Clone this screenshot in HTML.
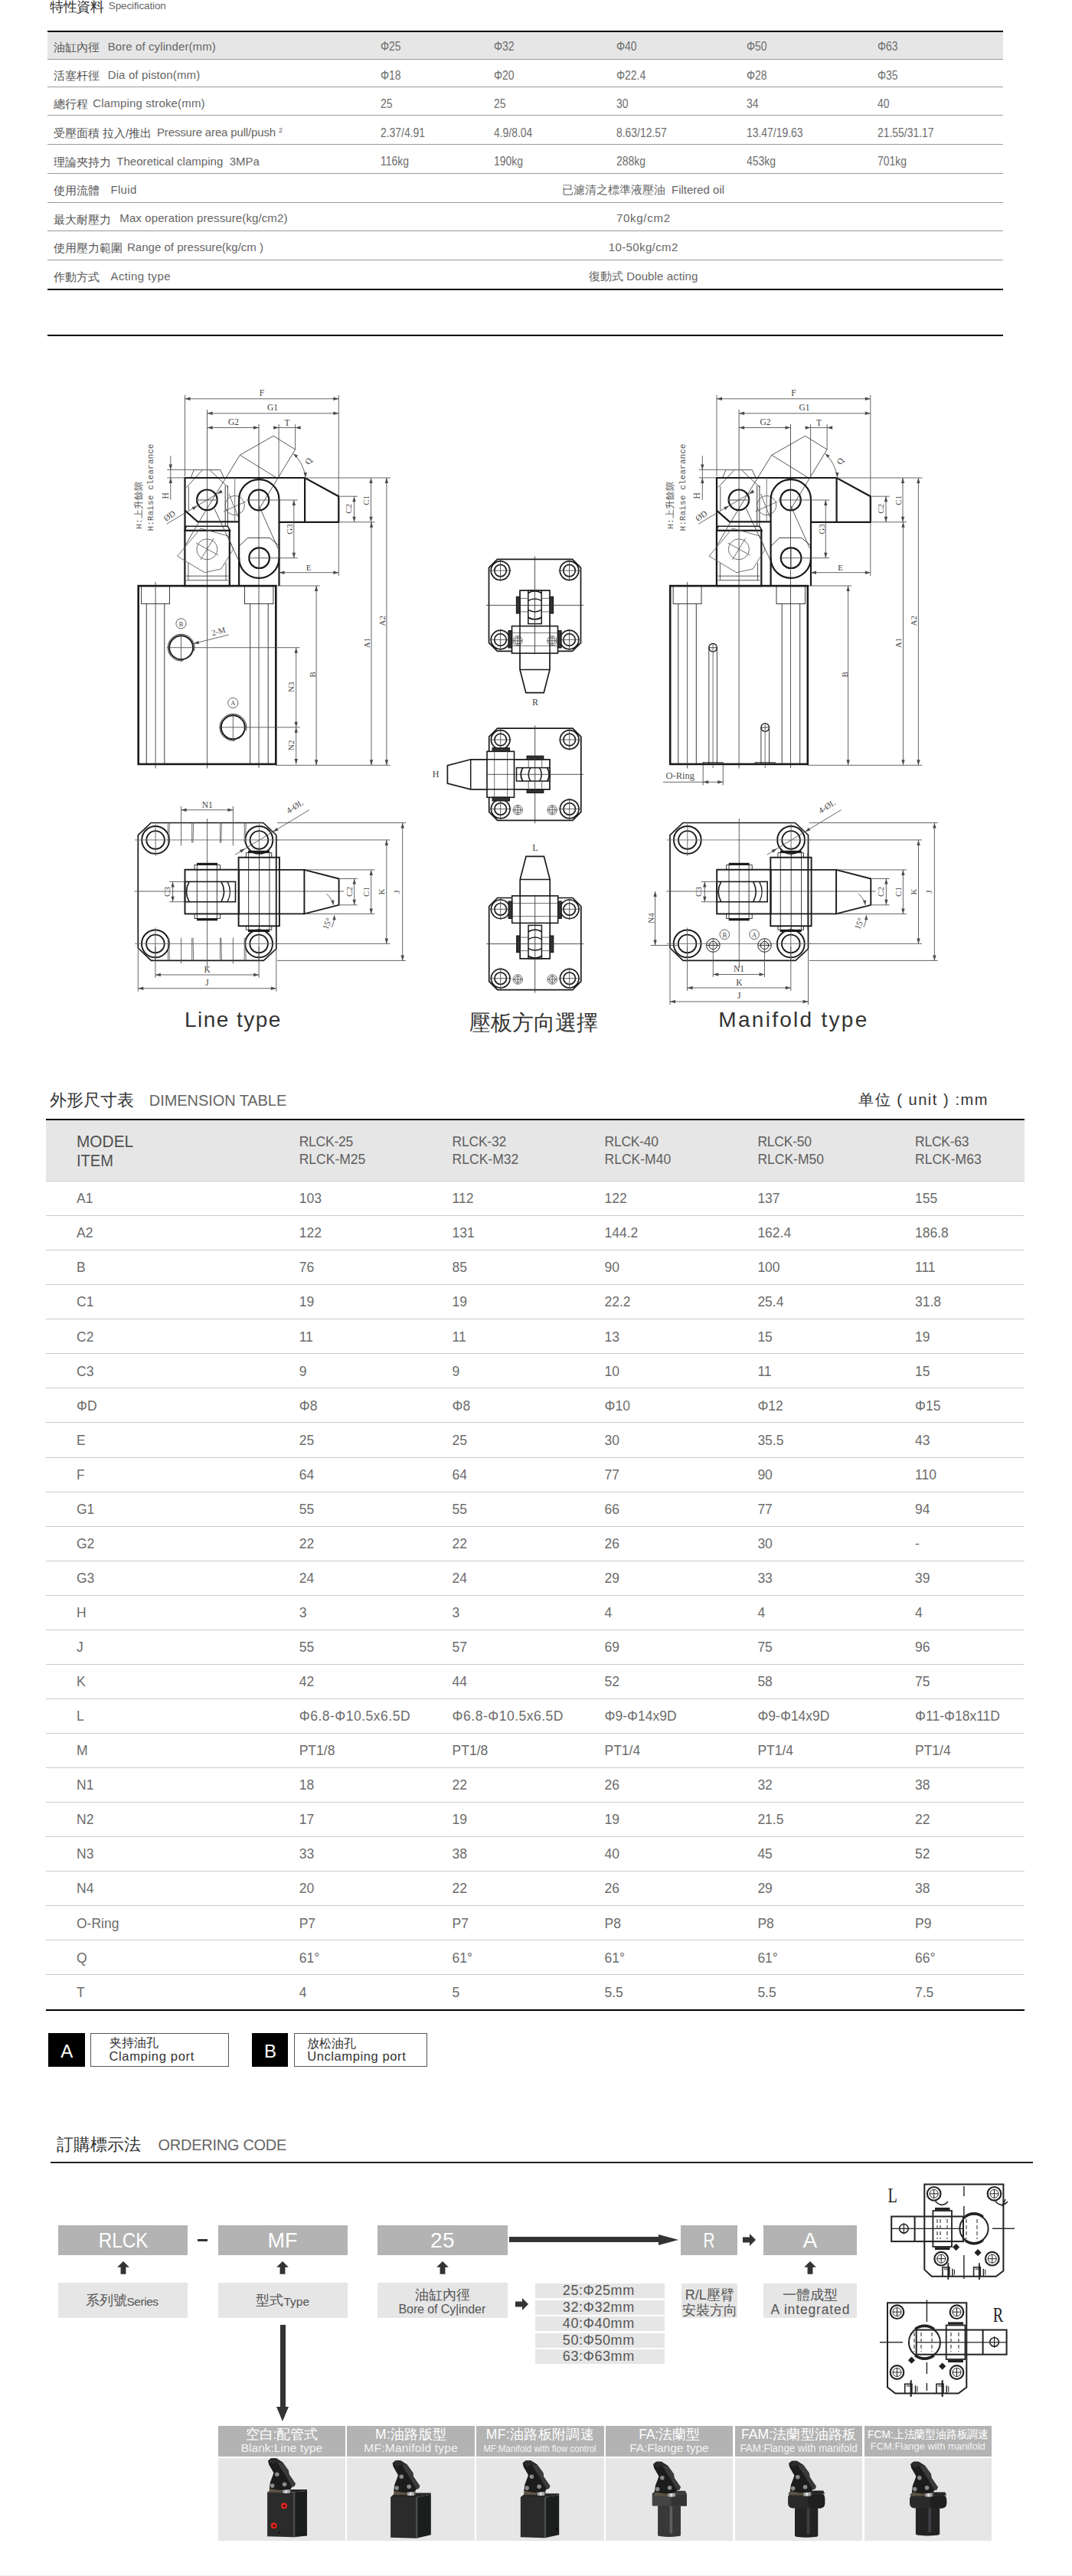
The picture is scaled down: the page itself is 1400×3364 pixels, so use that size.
<!DOCTYPE html>
<html><head><meta charset="utf-8"><title>RLCK</title><style>
*{margin:0;padding:0;box-sizing:border-box}
html,body{width:1400px;height:3364px;overflow:hidden;background:#fff}
body{position:relative;font-family:"Liberation Sans",sans-serif}
.t{position:absolute;white-space:nowrap}
.r{position:absolute;display:block}
sup{font-size:60%;vertical-align:top;position:relative;top:-3px}
svg{overflow:visible}
</style></head>
<body>
<div class="t " style="left:64.7px;top:-2.0px;font-size:17.50px;line-height:23px;color:#333;letter-spacing:-0.16px;">特性資料</div>
<div class="t " style="left:141.8px;top:-1.5px;font-size:13.50px;line-height:18px;color:#666;letter-spacing:-0.13px;">Specification</div>
<div class="r" style="left:62.0px;top:40.0px;width:1248.0px;height:2.0px;background:#000;"></div>
<div class="r" style="left:62.0px;top:42.0px;width:1248.0px;height:35.0px;background:#e6e6e6;"></div>
<div class="r" style="left:62.0px;top:77.0px;width:1248.0px;height:1.0px;background:#999;"></div>
<div class="r" style="left:62.0px;top:113.0px;width:1248.0px;height:1.0px;background:#999;"></div>
<div class="r" style="left:62.0px;top:149.5px;width:1248.0px;height:1.0px;background:#999;"></div>
<div class="r" style="left:62.0px;top:187.5px;width:1248.0px;height:1.0px;background:#999;"></div>
<div class="r" style="left:62.0px;top:226.0px;width:1248.0px;height:1.0px;background:#999;"></div>
<div class="r" style="left:62.0px;top:264.0px;width:1248.0px;height:1.0px;background:#999;"></div>
<div class="r" style="left:62.0px;top:301.0px;width:1248.0px;height:1.0px;background:#999;"></div>
<div class="r" style="left:62.0px;top:339.0px;width:1248.0px;height:1.0px;background:#999;"></div>
<div class="r" style="left:62.0px;top:377.0px;width:1248.0px;height:2.0px;background:#000;"></div>
<div class="t " style="left:70.0px;top:52.6px;font-size:14.80px;line-height:19px;color:#555;">油缸內徑</div>
<div class="t " style="left:140.7px;top:50.5px;font-size:15.00px;line-height:20px;color:#666;letter-spacing:0.10px;">Bore of cylinder(mm)</div>
<div class="t " style="left:496.5px;top:50.0px;font-size:16.00px;line-height:21px;color:#6e6e6e;transform:scaleX(0.87);transform-origin:left center;">Φ25</div>
<div class="t " style="left:644.6px;top:50.0px;font-size:16.00px;line-height:21px;color:#6e6e6e;transform:scaleX(0.87);transform-origin:left center;">Φ32</div>
<div class="t " style="left:804.5px;top:50.0px;font-size:16.00px;line-height:21px;color:#6e6e6e;transform:scaleX(0.87);transform-origin:left center;">Φ40</div>
<div class="t " style="left:975.0px;top:50.0px;font-size:16.00px;line-height:21px;color:#6e6e6e;transform:scaleX(0.87);transform-origin:left center;">Φ50</div>
<div class="t " style="left:1146.0px;top:50.0px;font-size:16.00px;line-height:21px;color:#6e6e6e;transform:scaleX(0.87);transform-origin:left center;">Φ63</div>
<div class="t " style="left:70.0px;top:90.1px;font-size:14.80px;line-height:19px;color:#555;">活塞杆徑</div>
<div class="t " style="left:140.7px;top:88.0px;font-size:15.00px;line-height:20px;color:#666;letter-spacing:0.13px;">Dia of piston(mm)</div>
<div class="t " style="left:496.5px;top:87.5px;font-size:16.00px;line-height:21px;color:#6e6e6e;transform:scaleX(0.87);transform-origin:left center;">Φ18</div>
<div class="t " style="left:644.6px;top:87.5px;font-size:16.00px;line-height:21px;color:#6e6e6e;transform:scaleX(0.87);transform-origin:left center;">Φ20</div>
<div class="t " style="left:804.5px;top:87.5px;font-size:16.00px;line-height:21px;color:#6e6e6e;transform:scaleX(0.87);transform-origin:left center;">Φ22.4</div>
<div class="t " style="left:975.0px;top:87.5px;font-size:16.00px;line-height:21px;color:#6e6e6e;transform:scaleX(0.87);transform-origin:left center;">Φ28</div>
<div class="t " style="left:1146.0px;top:87.5px;font-size:16.00px;line-height:21px;color:#6e6e6e;transform:scaleX(0.87);transform-origin:left center;">Φ35</div>
<div class="t " style="left:70.0px;top:127.4px;font-size:14.80px;line-height:19px;color:#555;">總行程</div>
<div class="t " style="left:121.3px;top:125.3px;font-size:15.00px;line-height:20px;color:#666;letter-spacing:0.16px;">Clamping stroke(mm)</div>
<div class="t " style="left:496.5px;top:124.8px;font-size:16.00px;line-height:21px;color:#6e6e6e;transform:scaleX(0.87);transform-origin:left center;">25</div>
<div class="t " style="left:644.6px;top:124.8px;font-size:16.00px;line-height:21px;color:#6e6e6e;transform:scaleX(0.87);transform-origin:left center;">25</div>
<div class="t " style="left:804.5px;top:124.8px;font-size:16.00px;line-height:21px;color:#6e6e6e;transform:scaleX(0.87);transform-origin:left center;">30</div>
<div class="t " style="left:975.0px;top:124.8px;font-size:16.00px;line-height:21px;color:#6e6e6e;transform:scaleX(0.87);transform-origin:left center;">34</div>
<div class="t " style="left:1146.0px;top:124.8px;font-size:16.00px;line-height:21px;color:#6e6e6e;transform:scaleX(0.87);transform-origin:left center;">40</div>
<div class="t " style="left:70.0px;top:165.4px;font-size:14.80px;line-height:19px;color:#555;">受壓面積 拉入/推出</div>
<div class="t " style="left:205.0px;top:163.3px;font-size:15.00px;line-height:20px;color:#666;letter-spacing:-0.15px;">Pressure area pull/push <sup>2</sup></div>
<div class="t " style="left:496.5px;top:162.8px;font-size:16.00px;line-height:21px;color:#6e6e6e;transform:scaleX(0.87);transform-origin:left center;">2.37/4.91</div>
<div class="t " style="left:644.6px;top:162.8px;font-size:16.00px;line-height:21px;color:#6e6e6e;transform:scaleX(0.87);transform-origin:left center;">4.9/8.04</div>
<div class="t " style="left:804.5px;top:162.8px;font-size:16.00px;line-height:21px;color:#6e6e6e;transform:scaleX(0.87);transform-origin:left center;">8.63/12.57</div>
<div class="t " style="left:975.0px;top:162.8px;font-size:16.00px;line-height:21px;color:#6e6e6e;transform:scaleX(0.87);transform-origin:left center;">13.47/19.63</div>
<div class="t " style="left:1146.0px;top:162.8px;font-size:16.00px;line-height:21px;color:#6e6e6e;transform:scaleX(0.87);transform-origin:left center;">21.55/31.17</div>
<div class="t " style="left:70.0px;top:202.8px;font-size:14.80px;line-height:19px;color:#555;">理論夾持力</div>
<div class="t " style="left:152.3px;top:200.7px;font-size:15.00px;line-height:20px;color:#666;letter-spacing:0.03px;">Theoretical clamping&nbsp; 3MPa</div>
<div class="t " style="left:496.5px;top:200.2px;font-size:16.00px;line-height:21px;color:#6e6e6e;transform:scaleX(0.87);transform-origin:left center;">116kg</div>
<div class="t " style="left:644.6px;top:200.2px;font-size:16.00px;line-height:21px;color:#6e6e6e;transform:scaleX(0.87);transform-origin:left center;">190kg</div>
<div class="t " style="left:804.5px;top:200.2px;font-size:16.00px;line-height:21px;color:#6e6e6e;transform:scaleX(0.87);transform-origin:left center;">288kg</div>
<div class="t " style="left:975.0px;top:200.2px;font-size:16.00px;line-height:21px;color:#6e6e6e;transform:scaleX(0.87);transform-origin:left center;">453kg</div>
<div class="t " style="left:1146.0px;top:200.2px;font-size:16.00px;line-height:21px;color:#6e6e6e;transform:scaleX(0.87);transform-origin:left center;">701kg</div>
<div class="t " style="left:70.0px;top:240.1px;font-size:14.80px;line-height:19px;color:#555;">使用流體</div>
<div class="t " style="left:144.5px;top:238.0px;font-size:15.00px;line-height:20px;color:#666;letter-spacing:0.31px;">Fluid</div>
<div class="t " style="left:540.0px;width:600px;text-align:center;top:238.0px;font-size:15.00px;line-height:20px;color:#666;letter-spacing:-0.02px;text-indent:-0.02px;">已濾清之標準液壓油&nbsp; Filtered oil</div>
<div class="t " style="left:70.0px;top:277.5px;font-size:14.80px;line-height:19px;color:#555;">最大耐壓力</div>
<div class="t " style="left:156.3px;top:275.4px;font-size:15.00px;line-height:20px;color:#666;letter-spacing:0.11px;">Max operation pressure(kg/cm2)</div>
<div class="t " style="left:540.0px;width:600px;text-align:center;top:275.4px;font-size:15.00px;line-height:20px;color:#666;letter-spacing:0.71px;text-indent:0.71px;">70kg/cm2</div>
<div class="t " style="left:70.0px;top:315.4px;font-size:14.80px;line-height:19px;color:#555;">使用壓力範圍</div>
<div class="t " style="left:166.0px;top:313.3px;font-size:15.00px;line-height:20px;color:#666;letter-spacing:0.02px;">Range of pressure(kg/cm )</div>
<div class="t " style="left:540.0px;width:600px;text-align:center;top:313.3px;font-size:15.00px;line-height:20px;color:#666;letter-spacing:0.38px;text-indent:0.38px;">10-50kg/cm2</div>
<div class="t " style="left:70.0px;top:352.6px;font-size:14.80px;line-height:19px;color:#555;">作動方式</div>
<div class="t " style="left:144.5px;top:350.5px;font-size:15.00px;line-height:20px;color:#666;letter-spacing:0.38px;">Acting type</div>
<div class="t " style="left:540.0px;width:600px;text-align:center;top:350.5px;font-size:15.00px;line-height:20px;color:#666;letter-spacing:0.10px;text-indent:0.10px;">復動式 Double acting</div>
<div class="r" style="left:62.0px;top:436.5px;width:1248.0px;height:2.0px;background:#000;"></div>
<div class="t " style="left:3.7px;width:600px;text-align:center;top:1314.0px;font-size:28.00px;line-height:36px;color:#333;letter-spacing:1.48px;text-indent:1.48px;">Line type</div>
<div class="t " style="left:397.0px;width:600px;text-align:center;top:1317.7px;font-size:27.80px;line-height:36px;color:#333;">壓板方向選擇</div>
<div class="t " style="left:735.3px;width:600px;text-align:center;top:1313.7px;font-size:28.00px;line-height:36px;color:#333;letter-spacing:2.28px;text-indent:2.28px;">Manifold type</div>
<div class="t " style="left:64.8px;top:1423.0px;font-size:21.80px;line-height:28px;color:#333;">外形尺寸表</div>
<div class="t " style="left:194.8px;top:1424.0px;font-size:20.00px;line-height:26px;color:#666;letter-spacing:-0.07px;">DIMENSION TABLE</div>
<div class="t " style="left:1121.0px;top:1423.0px;font-size:20.00px;line-height:26px;color:#333;letter-spacing:1.55px;">单位 ( unit ) :mm</div>
<div class="r" style="left:60.0px;top:1461.0px;width:1278.0px;height:2.0px;background:#000;"></div>
<div class="r" style="left:60.0px;top:1463.0px;width:1278.0px;height:79.0px;background:#e6e6e6;"></div>
<div class="t " style="left:100.0px;top:1475.7px;font-size:22.50px;line-height:29px;color:#505050;transform:scaleX(0.9270);transform-origin:left center;">MODEL</div>
<div class="t " style="left:100.0px;top:1500.7px;font-size:22.00px;line-height:29px;color:#505050;transform:scaleX(0.9140);transform-origin:left center;">ITEM</div>
<div class="t " style="left:390.7px;top:1480.3px;font-size:17.50px;line-height:23px;color:#5e5e5e;letter-spacing:-0.23px;">RLCK-25</div>
<div class="t " style="left:390.7px;top:1502.8px;font-size:17.50px;line-height:23px;color:#5e5e5e;letter-spacing:0.01px;">RLCK-M25</div>
<div class="t " style="left:590.6px;top:1480.3px;font-size:17.50px;line-height:23px;color:#5e5e5e;letter-spacing:-0.23px;">RLCK-32</div>
<div class="t " style="left:590.6px;top:1502.8px;font-size:17.50px;line-height:23px;color:#5e5e5e;letter-spacing:0.01px;">RLCK-M32</div>
<div class="t " style="left:789.5px;top:1480.3px;font-size:17.50px;line-height:23px;color:#5e5e5e;letter-spacing:-0.23px;">RLCK-40</div>
<div class="t " style="left:789.5px;top:1502.8px;font-size:17.50px;line-height:23px;color:#5e5e5e;letter-spacing:0.01px;">RLCK-M40</div>
<div class="t " style="left:989.4px;top:1480.3px;font-size:17.50px;line-height:23px;color:#5e5e5e;letter-spacing:-0.23px;">RLCK-50</div>
<div class="t " style="left:989.4px;top:1502.8px;font-size:17.50px;line-height:23px;color:#5e5e5e;letter-spacing:0.01px;">RLCK-M50</div>
<div class="t " style="left:1195.0px;top:1480.3px;font-size:17.50px;line-height:23px;color:#5e5e5e;letter-spacing:-0.23px;">RLCK-63</div>
<div class="t " style="left:1195.0px;top:1502.8px;font-size:17.50px;line-height:23px;color:#5e5e5e;letter-spacing:0.01px;">RLCK-M63</div>
<div class="r" style="left:60.0px;top:1542.0px;width:1278.0px;height:1.0px;background:#ccc;"></div>
<div class="t " style="left:100.0px;top:1554.2px;font-size:17.50px;line-height:23px;color:#6c6c6c;">A1</div>
<div class="t " style="left:390.7px;top:1554.2px;font-size:17.50px;line-height:23px;color:#6c6c6c;">103</div>
<div class="t " style="left:590.6px;top:1554.2px;font-size:17.50px;line-height:23px;color:#6c6c6c;">112</div>
<div class="t " style="left:789.5px;top:1554.2px;font-size:17.50px;line-height:23px;color:#6c6c6c;">122</div>
<div class="t " style="left:989.4px;top:1554.2px;font-size:17.50px;line-height:23px;color:#6c6c6c;">137</div>
<div class="t " style="left:1195.0px;top:1554.2px;font-size:17.50px;line-height:23px;color:#6c6c6c;">155</div>
<div class="r" style="left:60.0px;top:1587.1px;width:1278.0px;height:1.0px;background:#ccc;"></div>
<div class="t " style="left:100.0px;top:1599.3px;font-size:17.50px;line-height:23px;color:#6c6c6c;">A2</div>
<div class="t " style="left:390.7px;top:1599.3px;font-size:17.50px;line-height:23px;color:#6c6c6c;">122</div>
<div class="t " style="left:590.6px;top:1599.3px;font-size:17.50px;line-height:23px;color:#6c6c6c;">131</div>
<div class="t " style="left:789.5px;top:1599.3px;font-size:17.50px;line-height:23px;color:#6c6c6c;">144.2</div>
<div class="t " style="left:989.4px;top:1599.3px;font-size:17.50px;line-height:23px;color:#6c6c6c;">162.4</div>
<div class="t " style="left:1195.0px;top:1599.3px;font-size:17.50px;line-height:23px;color:#6c6c6c;">186.8</div>
<div class="r" style="left:60.0px;top:1632.1px;width:1278.0px;height:1.0px;background:#ccc;"></div>
<div class="t " style="left:100.0px;top:1644.3px;font-size:17.50px;line-height:23px;color:#6c6c6c;">B</div>
<div class="t " style="left:390.7px;top:1644.3px;font-size:17.50px;line-height:23px;color:#6c6c6c;">76</div>
<div class="t " style="left:590.6px;top:1644.3px;font-size:17.50px;line-height:23px;color:#6c6c6c;">85</div>
<div class="t " style="left:789.5px;top:1644.3px;font-size:17.50px;line-height:23px;color:#6c6c6c;">90</div>
<div class="t " style="left:989.4px;top:1644.3px;font-size:17.50px;line-height:23px;color:#6c6c6c;">100</div>
<div class="t " style="left:1195.0px;top:1644.3px;font-size:17.50px;line-height:23px;color:#6c6c6c;">111</div>
<div class="r" style="left:60.0px;top:1677.2px;width:1278.0px;height:1.0px;background:#ccc;"></div>
<div class="t " style="left:100.0px;top:1689.4px;font-size:17.50px;line-height:23px;color:#6c6c6c;">C1</div>
<div class="t " style="left:390.7px;top:1689.4px;font-size:17.50px;line-height:23px;color:#6c6c6c;">19</div>
<div class="t " style="left:590.6px;top:1689.4px;font-size:17.50px;line-height:23px;color:#6c6c6c;">19</div>
<div class="t " style="left:789.5px;top:1689.4px;font-size:17.50px;line-height:23px;color:#6c6c6c;">22.2</div>
<div class="t " style="left:989.4px;top:1689.4px;font-size:17.50px;line-height:23px;color:#6c6c6c;">25.4</div>
<div class="t " style="left:1195.0px;top:1689.4px;font-size:17.50px;line-height:23px;color:#6c6c6c;">31.8</div>
<div class="r" style="left:60.0px;top:1722.2px;width:1278.0px;height:1.0px;background:#ccc;"></div>
<div class="t " style="left:100.0px;top:1734.5px;font-size:17.50px;line-height:23px;color:#6c6c6c;">C2</div>
<div class="t " style="left:390.7px;top:1734.5px;font-size:17.50px;line-height:23px;color:#6c6c6c;">11</div>
<div class="t " style="left:590.6px;top:1734.5px;font-size:17.50px;line-height:23px;color:#6c6c6c;">11</div>
<div class="t " style="left:789.5px;top:1734.5px;font-size:17.50px;line-height:23px;color:#6c6c6c;">13</div>
<div class="t " style="left:989.4px;top:1734.5px;font-size:17.50px;line-height:23px;color:#6c6c6c;">15</div>
<div class="t " style="left:1195.0px;top:1734.5px;font-size:17.50px;line-height:23px;color:#6c6c6c;">19</div>
<div class="r" style="left:60.0px;top:1767.3px;width:1278.0px;height:1.0px;background:#ccc;"></div>
<div class="t " style="left:100.0px;top:1779.5px;font-size:17.50px;line-height:23px;color:#6c6c6c;">C3</div>
<div class="t " style="left:390.7px;top:1779.5px;font-size:17.50px;line-height:23px;color:#6c6c6c;">9</div>
<div class="t " style="left:590.6px;top:1779.5px;font-size:17.50px;line-height:23px;color:#6c6c6c;">9</div>
<div class="t " style="left:789.5px;top:1779.5px;font-size:17.50px;line-height:23px;color:#6c6c6c;">10</div>
<div class="t " style="left:989.4px;top:1779.5px;font-size:17.50px;line-height:23px;color:#6c6c6c;">11</div>
<div class="t " style="left:1195.0px;top:1779.5px;font-size:17.50px;line-height:23px;color:#6c6c6c;">15</div>
<div class="r" style="left:60.0px;top:1812.4px;width:1278.0px;height:1.0px;background:#ccc;"></div>
<div class="t " style="left:100.0px;top:1824.6px;font-size:17.50px;line-height:23px;color:#6c6c6c;">ΦD</div>
<div class="t " style="left:390.7px;top:1824.6px;font-size:17.50px;line-height:23px;color:#6c6c6c;">Φ8</div>
<div class="t " style="left:590.6px;top:1824.6px;font-size:17.50px;line-height:23px;color:#6c6c6c;">Φ8</div>
<div class="t " style="left:789.5px;top:1824.6px;font-size:17.50px;line-height:23px;color:#6c6c6c;">Φ10</div>
<div class="t " style="left:989.4px;top:1824.6px;font-size:17.50px;line-height:23px;color:#6c6c6c;">Φ12</div>
<div class="t " style="left:1195.0px;top:1824.6px;font-size:17.50px;line-height:23px;color:#6c6c6c;">Φ15</div>
<div class="r" style="left:60.0px;top:1857.4px;width:1278.0px;height:1.0px;background:#ccc;"></div>
<div class="t " style="left:100.0px;top:1869.7px;font-size:17.50px;line-height:23px;color:#6c6c6c;">E</div>
<div class="t " style="left:390.7px;top:1869.7px;font-size:17.50px;line-height:23px;color:#6c6c6c;">25</div>
<div class="t " style="left:590.6px;top:1869.7px;font-size:17.50px;line-height:23px;color:#6c6c6c;">25</div>
<div class="t " style="left:789.5px;top:1869.7px;font-size:17.50px;line-height:23px;color:#6c6c6c;">30</div>
<div class="t " style="left:989.4px;top:1869.7px;font-size:17.50px;line-height:23px;color:#6c6c6c;">35.5</div>
<div class="t " style="left:1195.0px;top:1869.7px;font-size:17.50px;line-height:23px;color:#6c6c6c;">43</div>
<div class="r" style="left:60.0px;top:1902.5px;width:1278.0px;height:1.0px;background:#ccc;"></div>
<div class="t " style="left:100.0px;top:1914.7px;font-size:17.50px;line-height:23px;color:#6c6c6c;">F</div>
<div class="t " style="left:390.7px;top:1914.7px;font-size:17.50px;line-height:23px;color:#6c6c6c;">64</div>
<div class="t " style="left:590.6px;top:1914.7px;font-size:17.50px;line-height:23px;color:#6c6c6c;">64</div>
<div class="t " style="left:789.5px;top:1914.7px;font-size:17.50px;line-height:23px;color:#6c6c6c;">77</div>
<div class="t " style="left:989.4px;top:1914.7px;font-size:17.50px;line-height:23px;color:#6c6c6c;">90</div>
<div class="t " style="left:1195.0px;top:1914.7px;font-size:17.50px;line-height:23px;color:#6c6c6c;">110</div>
<div class="r" style="left:60.0px;top:1947.5px;width:1278.0px;height:1.0px;background:#ccc;"></div>
<div class="t " style="left:100.0px;top:1959.8px;font-size:17.50px;line-height:23px;color:#6c6c6c;">G1</div>
<div class="t " style="left:390.7px;top:1959.8px;font-size:17.50px;line-height:23px;color:#6c6c6c;">55</div>
<div class="t " style="left:590.6px;top:1959.8px;font-size:17.50px;line-height:23px;color:#6c6c6c;">55</div>
<div class="t " style="left:789.5px;top:1959.8px;font-size:17.50px;line-height:23px;color:#6c6c6c;">66</div>
<div class="t " style="left:989.4px;top:1959.8px;font-size:17.50px;line-height:23px;color:#6c6c6c;">77</div>
<div class="t " style="left:1195.0px;top:1959.8px;font-size:17.50px;line-height:23px;color:#6c6c6c;">94</div>
<div class="r" style="left:60.0px;top:1992.6px;width:1278.0px;height:1.0px;background:#ccc;"></div>
<div class="t " style="left:100.0px;top:2004.8px;font-size:17.50px;line-height:23px;color:#6c6c6c;">G2</div>
<div class="t " style="left:390.7px;top:2004.8px;font-size:17.50px;line-height:23px;color:#6c6c6c;">22</div>
<div class="t " style="left:590.6px;top:2004.8px;font-size:17.50px;line-height:23px;color:#6c6c6c;">22</div>
<div class="t " style="left:789.5px;top:2004.8px;font-size:17.50px;line-height:23px;color:#6c6c6c;">26</div>
<div class="t " style="left:989.4px;top:2004.8px;font-size:17.50px;line-height:23px;color:#6c6c6c;">30</div>
<div class="t " style="left:1195.0px;top:2004.8px;font-size:17.50px;line-height:23px;color:#6c6c6c;">-</div>
<div class="r" style="left:60.0px;top:2037.7px;width:1278.0px;height:1.0px;background:#ccc;"></div>
<div class="t " style="left:100.0px;top:2049.9px;font-size:17.50px;line-height:23px;color:#6c6c6c;">G3</div>
<div class="t " style="left:390.7px;top:2049.9px;font-size:17.50px;line-height:23px;color:#6c6c6c;">24</div>
<div class="t " style="left:590.6px;top:2049.9px;font-size:17.50px;line-height:23px;color:#6c6c6c;">24</div>
<div class="t " style="left:789.5px;top:2049.9px;font-size:17.50px;line-height:23px;color:#6c6c6c;">29</div>
<div class="t " style="left:989.4px;top:2049.9px;font-size:17.50px;line-height:23px;color:#6c6c6c;">33</div>
<div class="t " style="left:1195.0px;top:2049.9px;font-size:17.50px;line-height:23px;color:#6c6c6c;">39</div>
<div class="r" style="left:60.0px;top:2082.7px;width:1278.0px;height:1.0px;background:#ccc;"></div>
<div class="t " style="left:100.0px;top:2095.0px;font-size:17.50px;line-height:23px;color:#6c6c6c;">H</div>
<div class="t " style="left:390.7px;top:2095.0px;font-size:17.50px;line-height:23px;color:#6c6c6c;">3</div>
<div class="t " style="left:590.6px;top:2095.0px;font-size:17.50px;line-height:23px;color:#6c6c6c;">3</div>
<div class="t " style="left:789.5px;top:2095.0px;font-size:17.50px;line-height:23px;color:#6c6c6c;">4</div>
<div class="t " style="left:989.4px;top:2095.0px;font-size:17.50px;line-height:23px;color:#6c6c6c;">4</div>
<div class="t " style="left:1195.0px;top:2095.0px;font-size:17.50px;line-height:23px;color:#6c6c6c;">4</div>
<div class="r" style="left:60.0px;top:2127.8px;width:1278.0px;height:1.0px;background:#ccc;"></div>
<div class="t " style="left:100.0px;top:2140.0px;font-size:17.50px;line-height:23px;color:#6c6c6c;">J</div>
<div class="t " style="left:390.7px;top:2140.0px;font-size:17.50px;line-height:23px;color:#6c6c6c;">55</div>
<div class="t " style="left:590.6px;top:2140.0px;font-size:17.50px;line-height:23px;color:#6c6c6c;">57</div>
<div class="t " style="left:789.5px;top:2140.0px;font-size:17.50px;line-height:23px;color:#6c6c6c;">69</div>
<div class="t " style="left:989.4px;top:2140.0px;font-size:17.50px;line-height:23px;color:#6c6c6c;">75</div>
<div class="t " style="left:1195.0px;top:2140.0px;font-size:17.50px;line-height:23px;color:#6c6c6c;">96</div>
<div class="r" style="left:60.0px;top:2172.8px;width:1278.0px;height:1.0px;background:#ccc;"></div>
<div class="t " style="left:100.0px;top:2185.1px;font-size:17.50px;line-height:23px;color:#6c6c6c;">K</div>
<div class="t " style="left:390.7px;top:2185.1px;font-size:17.50px;line-height:23px;color:#6c6c6c;">42</div>
<div class="t " style="left:590.6px;top:2185.1px;font-size:17.50px;line-height:23px;color:#6c6c6c;">44</div>
<div class="t " style="left:789.5px;top:2185.1px;font-size:17.50px;line-height:23px;color:#6c6c6c;">52</div>
<div class="t " style="left:989.4px;top:2185.1px;font-size:17.50px;line-height:23px;color:#6c6c6c;">58</div>
<div class="t " style="left:1195.0px;top:2185.1px;font-size:17.50px;line-height:23px;color:#6c6c6c;">75</div>
<div class="r" style="left:60.0px;top:2217.9px;width:1278.0px;height:1.0px;background:#ccc;"></div>
<div class="t " style="left:100.0px;top:2230.1px;font-size:17.50px;line-height:23px;color:#6c6c6c;">L</div>
<div class="t " style="left:390.7px;top:2230.1px;font-size:17.50px;line-height:23px;color:#6c6c6c;letter-spacing:0.50px;">Φ6.8-Φ10.5x6.5D</div>
<div class="t " style="left:590.6px;top:2230.1px;font-size:17.50px;line-height:23px;color:#6c6c6c;letter-spacing:0.50px;">Φ6.8-Φ10.5x6.5D</div>
<div class="t " style="left:789.5px;top:2230.1px;font-size:17.50px;line-height:23px;color:#6c6c6c;">Φ9-Φ14x9D</div>
<div class="t " style="left:989.4px;top:2230.1px;font-size:17.50px;line-height:23px;color:#6c6c6c;">Φ9-Φ14x9D</div>
<div class="t " style="left:1195.0px;top:2230.1px;font-size:17.50px;line-height:23px;color:#6c6c6c;">Φ11-Φ18x11D</div>
<div class="r" style="left:60.0px;top:2263.0px;width:1278.0px;height:1.0px;background:#ccc;"></div>
<div class="t " style="left:100.0px;top:2275.2px;font-size:17.50px;line-height:23px;color:#6c6c6c;">M</div>
<div class="t " style="left:390.7px;top:2275.2px;font-size:17.50px;line-height:23px;color:#6c6c6c;">PT1/8</div>
<div class="t " style="left:590.6px;top:2275.2px;font-size:17.50px;line-height:23px;color:#6c6c6c;">PT1/8</div>
<div class="t " style="left:789.5px;top:2275.2px;font-size:17.50px;line-height:23px;color:#6c6c6c;">PT1/4</div>
<div class="t " style="left:989.4px;top:2275.2px;font-size:17.50px;line-height:23px;color:#6c6c6c;">PT1/4</div>
<div class="t " style="left:1195.0px;top:2275.2px;font-size:17.50px;line-height:23px;color:#6c6c6c;">PT1/4</div>
<div class="r" style="left:60.0px;top:2308.0px;width:1278.0px;height:1.0px;background:#ccc;"></div>
<div class="t " style="left:100.0px;top:2320.2px;font-size:17.50px;line-height:23px;color:#6c6c6c;">N1</div>
<div class="t " style="left:390.7px;top:2320.2px;font-size:17.50px;line-height:23px;color:#6c6c6c;">18</div>
<div class="t " style="left:590.6px;top:2320.2px;font-size:17.50px;line-height:23px;color:#6c6c6c;">22</div>
<div class="t " style="left:789.5px;top:2320.2px;font-size:17.50px;line-height:23px;color:#6c6c6c;">26</div>
<div class="t " style="left:989.4px;top:2320.2px;font-size:17.50px;line-height:23px;color:#6c6c6c;">32</div>
<div class="t " style="left:1195.0px;top:2320.2px;font-size:17.50px;line-height:23px;color:#6c6c6c;">38</div>
<div class="r" style="left:60.0px;top:2353.1px;width:1278.0px;height:1.0px;background:#ccc;"></div>
<div class="t " style="left:100.0px;top:2365.3px;font-size:17.50px;line-height:23px;color:#6c6c6c;">N2</div>
<div class="t " style="left:390.7px;top:2365.3px;font-size:17.50px;line-height:23px;color:#6c6c6c;">17</div>
<div class="t " style="left:590.6px;top:2365.3px;font-size:17.50px;line-height:23px;color:#6c6c6c;">19</div>
<div class="t " style="left:789.5px;top:2365.3px;font-size:17.50px;line-height:23px;color:#6c6c6c;">19</div>
<div class="t " style="left:989.4px;top:2365.3px;font-size:17.50px;line-height:23px;color:#6c6c6c;">21.5</div>
<div class="t " style="left:1195.0px;top:2365.3px;font-size:17.50px;line-height:23px;color:#6c6c6c;">22</div>
<div class="r" style="left:60.0px;top:2398.1px;width:1278.0px;height:1.0px;background:#ccc;"></div>
<div class="t " style="left:100.0px;top:2410.4px;font-size:17.50px;line-height:23px;color:#6c6c6c;">N3</div>
<div class="t " style="left:390.7px;top:2410.4px;font-size:17.50px;line-height:23px;color:#6c6c6c;">33</div>
<div class="t " style="left:590.6px;top:2410.4px;font-size:17.50px;line-height:23px;color:#6c6c6c;">38</div>
<div class="t " style="left:789.5px;top:2410.4px;font-size:17.50px;line-height:23px;color:#6c6c6c;">40</div>
<div class="t " style="left:989.4px;top:2410.4px;font-size:17.50px;line-height:23px;color:#6c6c6c;">45</div>
<div class="t " style="left:1195.0px;top:2410.4px;font-size:17.50px;line-height:23px;color:#6c6c6c;">52</div>
<div class="r" style="left:60.0px;top:2443.2px;width:1278.0px;height:1.0px;background:#ccc;"></div>
<div class="t " style="left:100.0px;top:2455.4px;font-size:17.50px;line-height:23px;color:#6c6c6c;">N4</div>
<div class="t " style="left:390.7px;top:2455.4px;font-size:17.50px;line-height:23px;color:#6c6c6c;">20</div>
<div class="t " style="left:590.6px;top:2455.4px;font-size:17.50px;line-height:23px;color:#6c6c6c;">22</div>
<div class="t " style="left:789.5px;top:2455.4px;font-size:17.50px;line-height:23px;color:#6c6c6c;">26</div>
<div class="t " style="left:989.4px;top:2455.4px;font-size:17.50px;line-height:23px;color:#6c6c6c;">29</div>
<div class="t " style="left:1195.0px;top:2455.4px;font-size:17.50px;line-height:23px;color:#6c6c6c;">38</div>
<div class="r" style="left:60.0px;top:2488.3px;width:1278.0px;height:1.0px;background:#ccc;"></div>
<div class="t " style="left:100.0px;top:2500.5px;font-size:17.50px;line-height:23px;color:#6c6c6c;">O-Ring</div>
<div class="t " style="left:390.7px;top:2500.5px;font-size:17.50px;line-height:23px;color:#6c6c6c;">P7</div>
<div class="t " style="left:590.6px;top:2500.5px;font-size:17.50px;line-height:23px;color:#6c6c6c;">P7</div>
<div class="t " style="left:789.5px;top:2500.5px;font-size:17.50px;line-height:23px;color:#6c6c6c;">P8</div>
<div class="t " style="left:989.4px;top:2500.5px;font-size:17.50px;line-height:23px;color:#6c6c6c;">P8</div>
<div class="t " style="left:1195.0px;top:2500.5px;font-size:17.50px;line-height:23px;color:#6c6c6c;">P9</div>
<div class="r" style="left:60.0px;top:2533.3px;width:1278.0px;height:1.0px;background:#ccc;"></div>
<div class="t " style="left:100.0px;top:2545.6px;font-size:17.50px;line-height:23px;color:#6c6c6c;">Q</div>
<div class="t " style="left:390.7px;top:2545.6px;font-size:17.50px;line-height:23px;color:#6c6c6c;">61°</div>
<div class="t " style="left:590.6px;top:2545.6px;font-size:17.50px;line-height:23px;color:#6c6c6c;">61°</div>
<div class="t " style="left:789.5px;top:2545.6px;font-size:17.50px;line-height:23px;color:#6c6c6c;">61°</div>
<div class="t " style="left:989.4px;top:2545.6px;font-size:17.50px;line-height:23px;color:#6c6c6c;">61°</div>
<div class="t " style="left:1195.0px;top:2545.6px;font-size:17.50px;line-height:23px;color:#6c6c6c;">66°</div>
<div class="r" style="left:60.0px;top:2578.4px;width:1278.0px;height:1.0px;background:#ccc;"></div>
<div class="t " style="left:100.0px;top:2590.6px;font-size:17.50px;line-height:23px;color:#6c6c6c;">T</div>
<div class="t " style="left:390.7px;top:2590.6px;font-size:17.50px;line-height:23px;color:#6c6c6c;">4</div>
<div class="t " style="left:590.6px;top:2590.6px;font-size:17.50px;line-height:23px;color:#6c6c6c;">5</div>
<div class="t " style="left:789.5px;top:2590.6px;font-size:17.50px;line-height:23px;color:#6c6c6c;">5.5</div>
<div class="t " style="left:989.4px;top:2590.6px;font-size:17.50px;line-height:23px;color:#6c6c6c;">5.5</div>
<div class="t " style="left:1195.0px;top:2590.6px;font-size:17.50px;line-height:23px;color:#6c6c6c;">7.5</div>
<div class="r" style="left:60.0px;top:2623.5px;width:1278.0px;height:2.0px;background:#000;"></div>
<div class="r" style="left:63.0px;top:2655.0px;width:48.0px;height:44.0px;background:#000;"></div>
<div class="t " style="left:-212.8px;width:600px;text-align:center;top:2662.5px;font-size:24.00px;line-height:31px;color:#fff;">A</div>
<div class="r" style="left:118px;top:2654.6px;width:181px;height:44.4px;border:1.3px solid #555;"></div>
<div class="t " style="left:143.0px;top:2658.0px;font-size:15.70px;line-height:20px;color:#333;">夹持油孔</div>
<div class="t " style="left:142.4px;top:2674.5px;font-size:16.50px;line-height:21px;color:#333;letter-spacing:0.68px;">Clamping port</div>
<div class="r" style="left:329.4px;top:2655.0px;width:47.0px;height:44.0px;background:#000;"></div>
<div class="t " style="left:52.9px;width:600px;text-align:center;top:2662.5px;font-size:24.00px;line-height:31px;color:#fff;">B</div>
<div class="r" style="left:384px;top:2654.6px;width:174px;height:44.4px;border:1.3px solid #555;"></div>
<div class="t " style="left:401.2px;top:2657.5px;font-size:15.80px;line-height:21px;color:#333;">放松油孔</div>
<div class="t " style="left:401.2px;top:2674.5px;font-size:16.50px;line-height:21px;color:#333;letter-spacing:0.60px;">Unclamping port</div>
<div class="t " style="left:74.0px;top:2786.5px;font-size:21.50px;line-height:28px;color:#333;">訂購標示法</div>
<div class="t " style="left:206.6px;top:2787.5px;font-size:20.00px;line-height:26px;color:#666;letter-spacing:-0.28px;">ORDERING CODE</div>
<div class="r" style="left:66.0px;top:2822.5px;width:1282.5px;height:2.0px;background:#222;"></div>
<div class="r" style="left:76.0px;top:2906.2px;width:169.3px;height:38.4px;background:#b3b3b3;"></div>
<div class="t " style="left:-139.3px;width:600px;text-align:center;top:2908.0px;font-size:28.00px;line-height:36px;color:#fff;transform:scaleX(0.8656);transform-origin:center center;">RLCK</div>
<div class="r" style="left:284.5px;top:2906.2px;width:169.0px;height:38.4px;background:#b3b3b3;"></div>
<div class="t " style="left:69.0px;width:600px;text-align:center;top:2908.0px;font-size:28.00px;line-height:36px;color:#fff;transform:scaleX(0.9635);transform-origin:center center;">MF</div>
<div class="r" style="left:493.0px;top:2906.2px;width:169.6px;height:38.4px;background:#b3b3b3;"></div>
<div class="t " style="left:277.8px;width:600px;text-align:center;top:2908.0px;font-size:28.00px;line-height:36px;color:#fff;letter-spacing:0.30px;text-indent:0.30px;">25</div>
<div class="r" style="left:888.9px;top:2906.2px;width:74.3px;height:38.4px;background:#b3b3b3;"></div>
<div class="t " style="left:626.0px;width:600px;text-align:center;top:2908.0px;font-size:28.00px;line-height:36px;color:#fff;transform:scaleX(0.7393);transform-origin:center center;">R</div>
<div class="r" style="left:996.7px;top:2906.2px;width:122.2px;height:38.4px;background:#b3b3b3;"></div>
<div class="t " style="left:757.8px;width:600px;text-align:center;top:2908.0px;font-size:28.00px;line-height:36px;color:#fff;letter-spacing:-0.03px;text-indent:-0.03px;">A</div>
<div class="r" style="left:258.0px;top:2924.0px;width:12.5px;height:2.5px;background:#333;"></div>
<div class="r" style="left:665.0px;top:2921.3px;width:198.0px;height:6.7px;background:#333;"></div>
<svg class="r" style="left:860px;top:2917.5px" width="26" height="14" viewBox="0 0 26 14"><path d="M0 0 L26 7 L0 14Z" fill="#333"/></svg>
<svg class="r" style="left:152.8px;top:2953px" width="16" height="16.7" viewBox="0 0 16 17"><path d="M8 0 L16 8 L11.5 8 L11.5 17 L4.5 17 L4.5 8 L0 8Z" fill="#333"/></svg>
<svg class="r" style="left:361px;top:2953px" width="16" height="16.7" viewBox="0 0 16 17"><path d="M8 0 L16 8 L11.5 8 L11.5 17 L4.5 17 L4.5 8 L0 8Z" fill="#333"/></svg>
<svg class="r" style="left:570px;top:2953px" width="16" height="16.7" viewBox="0 0 16 17"><path d="M8 0 L16 8 L11.5 8 L11.5 17 L4.5 17 L4.5 8 L0 8Z" fill="#333"/></svg>
<svg class="r" style="left:1049.7px;top:2953px" width="16" height="16.7" viewBox="0 0 16 17"><path d="M8 0 L16 8 L11.5 8 L11.5 17 L4.5 17 L4.5 8 L0 8Z" fill="#333"/></svg>
<svg class="r" style="left:970px;top:2917.3px" width="17" height="16" viewBox="0 0 17 16"><path d="M17 8 L9 0 L9 4.5 L0 4.5 L0 11.5 L9 11.5 L9 16Z" fill="#333"/></svg>
<svg class="r" style="left:673px;top:3000.7px" width="17" height="16" viewBox="0 0 17 16"><path d="M17 8 L9 0 L9 4.5 L0 4.5 L0 11.5 L9 11.5 L9 16Z" fill="#333"/></svg>
<div class="r" style="left:76.0px;top:2981.3px;width:169.3px;height:45.3px;background:#e6e6e6;"></div>
<div class="t " style="left:111.8px;top:2993.2px;font-size:18.00px;line-height:23px;color:#555;">系列號</div>
<div class="t " style="left:165.5px;top:2995.5px;font-size:15.50px;line-height:20px;color:#555;letter-spacing:-0.47px;">Series</div>
<div class="r" style="left:284.5px;top:2981.3px;width:169.0px;height:45.3px;background:#e6e6e6;"></div>
<div class="t " style="left:334.0px;top:2993.2px;font-size:18.00px;line-height:23px;color:#555;">型式</div>
<div class="t " style="left:370.5px;top:2995.5px;font-size:15.50px;line-height:20px;color:#555;letter-spacing:-0.01px;">Type</div>
<div class="r" style="left:493.0px;top:2981.3px;width:169.6px;height:45.3px;background:#e6e6e6;"></div>
<div class="t " style="left:277.5px;width:600px;text-align:center;top:2986.3px;font-size:17.80px;line-height:23px;color:#555;">油缸內徑</div>
<div class="t " style="left:277.4px;width:600px;text-align:center;top:3004.9px;font-size:16.00px;line-height:21px;color:#555;letter-spacing:-0.11px;text-indent:-0.11px;">Bore of Cy|inder</div>
<div class="r" style="left:890.0px;top:2982.0px;width:72.7px;height:44.8px;background:#e6e6e6;"></div>
<div class="t " style="left:626.7px;width:600px;text-align:center;top:2986.3px;font-size:18.00px;line-height:23px;color:#555;">R/L壓臂</div>
<div class="t " style="left:626.7px;width:600px;text-align:center;top:3005.7px;font-size:17.60px;line-height:23px;color:#555;">安裝方向</div>
<div class="r" style="left:996.7px;top:2982.0px;width:122.2px;height:44.8px;background:#e6e6e6;"></div>
<div class="t " style="left:758.0px;width:600px;text-align:center;top:2986.3px;font-size:17.80px;line-height:23px;color:#555;">一體成型</div>
<div class="t " style="left:758.0px;width:600px;text-align:center;top:3004.5px;font-size:17.50px;line-height:23px;color:#555;letter-spacing:0.85px;text-indent:0.85px;">A integrated</div>
<div class="r" style="left:698.7px;top:2982.0px;width:169.3px;height:19.0px;background:#e6e6e6;"></div>
<div class="t " style="left:481.5px;width:600px;text-align:center;top:2980.1px;font-size:18.00px;line-height:23px;color:#555;letter-spacing:0.56px;text-indent:0.56px;">25:Φ25mm</div>
<div class="r" style="left:698.7px;top:3003.6px;width:169.3px;height:19.0px;background:#e6e6e6;"></div>
<div class="t " style="left:481.5px;width:600px;text-align:center;top:3001.7px;font-size:18.00px;line-height:23px;color:#555;letter-spacing:0.56px;text-indent:0.56px;">32:Φ32mm</div>
<div class="r" style="left:698.7px;top:3025.1px;width:169.3px;height:19.0px;background:#e6e6e6;"></div>
<div class="t " style="left:481.5px;width:600px;text-align:center;top:3023.2px;font-size:18.00px;line-height:23px;color:#555;letter-spacing:0.56px;text-indent:0.56px;">40:Φ40mm</div>
<div class="r" style="left:698.7px;top:3046.7px;width:169.3px;height:19.0px;background:#e6e6e6;"></div>
<div class="t " style="left:481.5px;width:600px;text-align:center;top:3044.8px;font-size:18.00px;line-height:23px;color:#555;letter-spacing:0.56px;text-indent:0.56px;">50:Φ50mm</div>
<div class="r" style="left:698.7px;top:3068.2px;width:169.3px;height:19.0px;background:#e6e6e6;"></div>
<div class="t " style="left:481.5px;width:600px;text-align:center;top:3066.3px;font-size:18.00px;line-height:23px;color:#555;letter-spacing:0.56px;text-indent:0.56px;">63:Φ63mm</div>
<div class="r" style="left:366.0px;top:3035.6px;width:6.5px;height:110.0px;background:#333;"></div>
<svg class="r" style="left:361px;top:3143px" width="16" height="19" viewBox="0 0 16 19"><path d="M0 0 L16 0 L8 19Z" fill="#333"/></svg>
<div class="r" style="left:284.6px;top:3167.8px;width:166.6px;height:40.2px;background:#b3b3b3;"></div>
<div class="r" style="left:284.6px;top:3210.3px;width:166.6px;height:107.5px;background:#e6e6e6;"></div>
<div class="t " style="left:67.9px;width:600px;text-align:center;top:3168.0px;font-size:17.50px;line-height:23px;color:#fff;letter-spacing:-0.21px;text-indent:-0.21px;">空白:配管式</div>
<div class="t " style="left:67.9px;width:600px;text-align:center;top:3187.0px;font-size:15.50px;line-height:20px;color:#f4f4f4;letter-spacing:0.03px;text-indent:0.03px;">Blank:Line type</div>
<div class="r" style="left:453.3px;top:3167.8px;width:166.6px;height:40.2px;background:#b3b3b3;"></div>
<div class="r" style="left:453.3px;top:3210.3px;width:166.6px;height:107.5px;background:#e6e6e6;"></div>
<div class="t " style="left:236.6px;width:600px;text-align:center;top:3168.0px;font-size:17.50px;line-height:23px;color:#fff;letter-spacing:0.35px;text-indent:0.35px;">M:油路版型</div>
<div class="t " style="left:236.6px;width:600px;text-align:center;top:3187.0px;font-size:15.50px;line-height:20px;color:#f4f4f4;letter-spacing:0.24px;text-indent:0.24px;">MF:Manifold type</div>
<div class="r" style="left:622.0px;top:3167.8px;width:166.6px;height:40.2px;background:#b3b3b3;"></div>
<div class="r" style="left:622.0px;top:3210.3px;width:166.6px;height:107.5px;background:#e6e6e6;"></div>
<div class="t " style="left:405.3px;width:600px;text-align:center;top:3168.0px;font-size:17.50px;line-height:23px;color:#fff;letter-spacing:0.34px;text-indent:0.34px;">MF:油路板附調速</div>
<div class="t " style="left:405.3px;width:600px;text-align:center;top:3188.5px;font-size:13.00px;line-height:17px;color:#f4f4f4;transform:scaleX(0.8782);transform-origin:center center;">MF:Manifold with flow control</div>
<div class="r" style="left:790.6px;top:3167.8px;width:166.6px;height:40.2px;background:#b3b3b3;"></div>
<div class="r" style="left:790.6px;top:3210.3px;width:166.6px;height:107.5px;background:#e6e6e6;"></div>
<div class="t " style="left:573.9px;width:600px;text-align:center;top:3168.0px;font-size:17.50px;line-height:23px;color:#fff;letter-spacing:-0.15px;text-indent:-0.15px;">FA:法蘭型</div>
<div class="t " style="left:573.9px;width:600px;text-align:center;top:3187.0px;font-size:15.50px;line-height:20px;color:#f4f4f4;letter-spacing:-0.06px;text-indent:-0.06px;">FA:Flange type</div>
<div class="r" style="left:959.7px;top:3167.8px;width:166.6px;height:40.2px;background:#b3b3b3;"></div>
<div class="r" style="left:959.7px;top:3210.3px;width:166.6px;height:107.5px;background:#e6e6e6;"></div>
<div class="t " style="left:743.0px;width:600px;text-align:center;top:3168.0px;font-size:17.50px;line-height:23px;color:#fff;letter-spacing:0.15px;text-indent:0.15px;">FAM:法蘭型油路板</div>
<div class="t " style="left:743.0px;width:600px;text-align:center;top:3187.0px;font-size:15.50px;line-height:20px;color:#f4f4f4;transform:scaleX(0.8584);transform-origin:center center;">FAM:Flange with manifold</div>
<div class="r" style="left:1128.5px;top:3167.8px;width:166.6px;height:40.2px;background:#b3b3b3;"></div>
<div class="r" style="left:1128.5px;top:3210.3px;width:166.6px;height:107.5px;background:#e6e6e6;"></div>
<div class="t " style="left:911.8px;width:600px;text-align:center;top:3169.0px;font-size:15.00px;line-height:20px;color:#fff;transform:scaleX(0.9195);transform-origin:center center;">FCM:上法蘭型油路板調速</div>
<div class="t " style="left:911.8px;width:600px;text-align:center;top:3185.5px;font-size:13.00px;line-height:17px;color:#f4f4f4;letter-spacing:-0.05px;text-indent:-0.05px;">FCM:Flange with manifold</div>
<div class="r" style="left:0.0px;top:3362.6px;width:1400.0px;height:1.4px;background:#f1f1f1;"></div>
<svg class="r" style="left:150px;top:480px" width="1120" height="880" viewBox="150 480 1120 880" ><line x1="241.5" y1="516.0" x2="241.5" y2="622.0" stroke="#4a4a4a" stroke-width="0.85" /><line x1="442.3" y1="516.0" x2="442.3" y2="752.0" stroke="#4a4a4a" stroke-width="0.85" /><line x1="241.5" y1="520.8" x2="442.3" y2="520.8" stroke="#4a4a4a" stroke-width="0.85" /><polygon points="241.5,520.8 248.5,518.6 248.5,523.0" fill="#4a4a4a"/><polygon points="442.3,520.8 435.3,523.0 435.3,518.6" fill="#4a4a4a"/><text x="342.0" y="513.0" font-size="11.5" fill="#444" font-family="Liberation Serif" text-anchor="middle" dominant-baseline="central" >F</text><line x1="270.6" y1="539.8" x2="442.3" y2="539.8" stroke="#4a4a4a" stroke-width="0.85" /><polygon points="270.6,539.8 277.6,537.6 277.6,542.0" fill="#4a4a4a"/><polygon points="442.3,539.8 435.3,542.0 435.3,537.6" fill="#4a4a4a"/><text x="356.0" y="532.0" font-size="11.5" fill="#444" font-family="Liberation Serif" text-anchor="middle" dominant-baseline="central" >G1</text><line x1="270.6" y1="558.5" x2="338.0" y2="558.5" stroke="#4a4a4a" stroke-width="0.85" /><polygon points="270.6,558.5 277.6,556.3 277.6,560.7" fill="#4a4a4a"/><polygon points="338.0,558.5 331.0,560.7 331.0,556.3" fill="#4a4a4a"/><text x="305.0" y="551.0" font-size="11.5" fill="#444" font-family="Liberation Serif" text-anchor="middle" dominant-baseline="central" >G2</text><line x1="358.0" y1="558.5" x2="392.0" y2="558.5" stroke="#4a4a4a" stroke-width="0.85" /><polygon points="364.1,558.5 357.1,560.7 357.1,556.3" fill="#4a4a4a"/><polygon points="385.6,558.5 392.6,556.3 392.6,560.7" fill="#4a4a4a"/><text x="375.0" y="551.5" font-size="11.5" fill="#444" font-family="Liberation Serif" text-anchor="middle" dominant-baseline="central" >T</text><line x1="338.0" y1="554.0" x2="338.0" y2="1003.0" stroke="#3a3a3a" stroke-width="0.85" /><line x1="364.1" y1="554.0" x2="364.1" y2="624.0" stroke="#4a4a4a" stroke-width="0.85" /><line x1="385.6" y1="554.0" x2="385.6" y2="587.0" stroke="#4a4a4a" stroke-width="0.85" /><line x1="270.6" y1="535.0" x2="270.6" y2="1003.5" stroke="#3a3a3a" stroke-width="0.85" /><polyline points="313.3,594.3 357.0,569.3 385.6,587.0 338.0,665.4" stroke="#3a3a3a" stroke-width="0.85" fill="none" stroke-linejoin="miter"/><line x1="313.3" y1="594.3" x2="360.8" y2="623.7" stroke="#3a3a3a" stroke-width="0.85" /><line x1="313.3" y1="594.3" x2="281.8" y2="645.4" stroke="#3a3a3a" stroke-width="0.85" /><line x1="281.8" y1="645.4" x2="262.0" y2="678.0" stroke="#3a3a3a" stroke-width="0.85" /><path d="M383.2,592.6 Q396.0,604 399.0,623" stroke="#4a4a4a" stroke-width="0.85" fill="none" /><polygon points="383.2,592.6 389.2,594.8 386.4,598.1" fill="#4a4a4a"/><polygon points="399.0,623.2 396.6,617.3 401.0,617.1" fill="#4a4a4a"/><text x="402.5" y="602.0" font-size="11" fill="#444" font-family="Liberation Serif" text-anchor="middle" dominant-baseline="central" transform="rotate(-60 402.5 602.0)" >Q</text><line x1="218.2" y1="613.4" x2="253.4" y2="613.4" stroke="#4a4a4a" stroke-width="0.85" /><line x1="218.2" y1="623.9" x2="241.5" y2="623.9" stroke="#4a4a4a" stroke-width="0.85" /><line x1="222.8" y1="595.2" x2="222.8" y2="652.8" stroke="#4a4a4a" stroke-width="0.85" /><polygon points="222.8,613.4 220.6,606.4 225.0,606.4" fill="#4a4a4a"/><polygon points="222.8,623.9 225.0,630.9 220.6,630.9" fill="#4a4a4a"/><text x="215.8" y="647.3" font-size="11.5" fill="#444" font-family="Liberation Serif" text-anchor="middle" dominant-baseline="central" transform="rotate(-90 215.8 647.3)" >H</text><polyline points="249.2,624.0 253.3,613.6 287.8,613.6 292.5,624.0" stroke="#3a3a3a" stroke-width="0.85" fill="none" stroke-linejoin="miter"/><line x1="243.5" y1="636.5" x2="264.5" y2="613.6" stroke="#3a3a3a" stroke-width="0.85" /><line x1="273.8" y1="613.6" x2="298.0" y2="636.5" stroke="#3a3a3a" stroke-width="0.85" /><line x1="246.3" y1="635.2" x2="246.3" y2="666.7" stroke="#3a3a3a" stroke-width="0.85" /><polyline points="241.5,666.7 241.5,624.0 398.1,624.0 442.3,648.2 442.3,681.8 364.5,681.8" stroke="#1a1a1a" stroke-width="2.2" fill="none" stroke-linejoin="miter"/><line x1="398.1" y1="624.0" x2="398.1" y2="681.8" stroke="#1a1a1a" stroke-width="2.2" /><polyline points="241.5,666.7 258.2,681.3 311.9,681.3" stroke="#1a1a1a" stroke-width="2.2" fill="none" stroke-linejoin="miter"/><line x1="241.5" y1="666.7" x2="241.5" y2="692.8" stroke="#1a1a1a" stroke-width="2.2" /><line x1="294.2" y1="634.0" x2="294.2" y2="687.0" stroke="#1a1a1a" stroke-width="0.85" /><line x1="297.4" y1="634.0" x2="297.4" y2="687.0" stroke="#1a1a1a" stroke-width="0.85" /><polygon points="243.0,688.0 241.5,692.8 300.5,692.8 297.4,687.2 243.0,687.2" stroke="#1a1a1a" stroke-width="1.6" fill="none" stroke-linejoin="miter"/><line x1="306.7" y1="624.0" x2="306.7" y2="681.0" stroke="#777" stroke-width="1.0" /><circle cx="270.4" cy="652.8" r="13.3" stroke="#1a1a1a" stroke-width="2.2" fill="none" /><line x1="256.0" y1="653.0" x2="285.0" y2="653.0" stroke="#666" stroke-width="1.2" /><circle cx="306.7" cy="660.0" r="12.6" stroke="#555" stroke-width="0.85" fill="none" /><line x1="292.0" y1="668.0" x2="321.0" y2="655.0" stroke="#555" stroke-width="0.85" /><line x1="299.0" y1="645.0" x2="311.0" y2="675.0" stroke="#555" stroke-width="0.85" /><line x1="217.6" y1="684.3" x2="289.8" y2="641.3" stroke="#4a4a4a" stroke-width="0.85" /><polygon points="257.7,660.6 252.8,666.1 250.6,662.3" fill="#4a4a4a"/><polygon points="283.5,645.1 288.4,639.6 290.6,643.4" fill="#4a4a4a"/><text x="221.2" y="673.4" font-size="11" fill="#444" font-family="Liberation Serif" text-anchor="middle" dominant-baseline="central" transform="rotate(-35 221.2 673.4)" >ØD</text><path d="M312.1,765 L312.1,652.3 A26.2,26.2 0 0 1 364.5,652.3 L364.5,765" stroke="#1a1a1a" stroke-width="2.2" fill="none" /><circle cx="338.0" cy="653.0" r="13.3" stroke="#1a1a1a" stroke-width="2.2" fill="none" /><line x1="322.0" y1="653.0" x2="388.8" y2="653.0" stroke="#4a4a4a" stroke-width="0.85" /><line x1="338.0" y1="640.0" x2="338.0" y2="666.0" stroke="#4a4a4a" stroke-width="0.85" /><path d="M312.1,728.7 A26.2,26.2 0 0 0 364.5,728.7" stroke="#1a1a1a" stroke-width="2.2" fill="none" /><polyline points="312.1,713.4 323.6,702.3 352.1,702.3 364.5,712.6" stroke="#1a1a1a" stroke-width="0.85" fill="none" stroke-linejoin="miter"/><circle cx="338.6" cy="728.7" r="13.3" stroke="#1a1a1a" stroke-width="2.2" fill="none" /><line x1="324.0" y1="728.7" x2="388.6" y2="728.7" stroke="#4a4a4a" stroke-width="0.85" /><line x1="338.6" y1="714.0" x2="338.6" y2="743.0" stroke="#4a4a4a" stroke-width="0.85" /><rect x="241.4" y="692.8" width="58.4" height="72.3" stroke="#1a1a1a" stroke-width="2.2" fill="none"/><line x1="245.9" y1="735.0" x2="245.9" y2="757.8" stroke="#3a3a3a" stroke-width="0.85" /><line x1="295.0" y1="735.0" x2="295.0" y2="757.8" stroke="#3a3a3a" stroke-width="0.85" /><line x1="243.0" y1="752.2" x2="298.0" y2="752.2" stroke="#3a3a3a" stroke-width="0.85" /><line x1="243.0" y1="757.8" x2="298.0" y2="757.8" stroke="#3a3a3a" stroke-width="0.85" /><circle cx="270.4" cy="717.3" r="13.5" stroke="#555" stroke-width="0.85" fill="none" /><line x1="256.0" y1="709.0" x2="285.0" y2="725.0" stroke="#555" stroke-width="0.85" /><line x1="262.0" y1="731.0" x2="279.0" y2="703.0" stroke="#555" stroke-width="0.85" /><polygon points="231.6,726.3 267.3,747.7 288.7,743.0 304.5,717.6 298.0,700.0 262.0,690.0" stroke="#555" stroke-width="0.85" fill="none" stroke-linejoin="miter"/><line x1="262.0" y1="678.0" x2="241.5" y2="713.0" stroke="#3a3a3a" stroke-width="0.85" /><line x1="338.0" y1="660.0" x2="363.0" y2="716.0" stroke="#3a3a3a" stroke-width="0.85" /><line x1="280.1" y1="664.5" x2="312.5" y2="733.5" stroke="#3a3a3a" stroke-width="0.85" /><line x1="383.8" y1="653.0" x2="383.8" y2="728.7" stroke="#4a4a4a" stroke-width="0.85" /><polygon points="383.8,653.0 386.0,660.0 381.6,660.0" fill="#4a4a4a"/><polygon points="383.8,728.7 381.6,721.7 386.0,721.7" fill="#4a4a4a"/><text x="378.0" y="691.0" font-size="11" fill="#444" font-family="Liberation Serif" text-anchor="middle" dominant-baseline="central" transform="rotate(-90 378.0 691.0)" >G3</text><line x1="364.5" y1="747.7" x2="442.3" y2="747.7" stroke="#4a4a4a" stroke-width="0.85" /><polygon points="364.5,747.7 371.5,745.5 371.5,749.9" fill="#4a4a4a"/><polygon points="442.3,747.7 435.3,749.9 435.3,745.5" fill="#4a4a4a"/><text x="403.0" y="740.5" font-size="11" fill="#444" font-family="Liberation Serif" text-anchor="middle" dominant-baseline="central" >E</text><line x1="398.0" y1="624.0" x2="510.0" y2="624.0" stroke="#4a4a4a" stroke-width="0.85" /><line x1="444.0" y1="648.2" x2="467.0" y2="648.2" stroke="#4a4a4a" stroke-width="0.85" /><line x1="444.0" y1="681.8" x2="489.5" y2="681.8" stroke="#4a4a4a" stroke-width="0.85" /><line x1="462.5" y1="648.2" x2="462.5" y2="681.8" stroke="#4a4a4a" stroke-width="0.85" /><polygon points="462.5,648.2 464.7,655.2 460.3,655.2" fill="#4a4a4a"/><polygon points="462.5,681.8 460.3,674.8 464.7,674.8" fill="#4a4a4a"/><text x="455.4" y="664.4" font-size="11" fill="#444" font-family="Liberation Serif" text-anchor="middle" dominant-baseline="central" transform="rotate(-90 455.4 664.4)" >C2</text><line x1="484.5" y1="624.0" x2="484.5" y2="681.8" stroke="#4a4a4a" stroke-width="0.85" /><polygon points="484.5,624.0 486.7,631.0 482.3,631.0" fill="#4a4a4a"/><polygon points="484.5,681.8 482.3,674.8 486.7,674.8" fill="#4a4a4a"/><text x="478.3" y="653.2" font-size="11" fill="#444" font-family="Liberation Serif" text-anchor="middle" dominant-baseline="central" transform="rotate(-90 478.3 653.2)" >C1</text><line x1="485.0" y1="681.8" x2="485.0" y2="999.3" stroke="#4a4a4a" stroke-width="0.85" /><polygon points="485.0,681.8 487.2,688.8 482.8,688.8" fill="#4a4a4a"/><polygon points="485.0,999.3 482.8,992.3 487.2,992.3" fill="#4a4a4a"/><text x="478.9" y="839.5" font-size="11" fill="#444" font-family="Liberation Serif" text-anchor="middle" dominant-baseline="central" transform="rotate(-90 478.9 839.5)" >A1</text><line x1="504.9" y1="624.0" x2="504.9" y2="999.3" stroke="#4a4a4a" stroke-width="0.85" /><polygon points="504.9,624.0 507.1,631.0 502.7,631.0" fill="#4a4a4a"/><polygon points="504.9,999.3 502.7,992.3 507.1,992.3" fill="#4a4a4a"/><text x="498.8" y="810.8" font-size="11" fill="#444" font-family="Liberation Serif" text-anchor="middle" dominant-baseline="central" transform="rotate(-90 498.8 810.8)" >A2</text><line x1="360.0" y1="765.0" x2="417.7" y2="765.0" stroke="#4a4a4a" stroke-width="0.85" /><line x1="413.1" y1="765.0" x2="413.1" y2="999.3" stroke="#4a4a4a" stroke-width="0.85" /><polygon points="413.1,765.0 415.3,772.0 410.9,772.0" fill="#4a4a4a"/><polygon points="413.1,999.3 410.9,992.3 415.3,992.3" fill="#4a4a4a"/><text x="408.1" y="880.8" font-size="11" fill="#444" font-family="Liberation Serif" text-anchor="middle" dominant-baseline="central" transform="rotate(-90 408.1 880.8)" >B</text><line x1="360.0" y1="999.3" x2="509.5" y2="999.3" stroke="#4a4a4a" stroke-width="0.85" /><text x="181.2" y="660.0" font-size="11.5" fill="#555" font-family="Liberation Mono" text-anchor="middle" dominant-baseline="central" transform="rotate(-90 181.2 660.0)" >H:上升餘隙</text><text x="197.0" y="636.5" font-size="11.2" fill="#555" font-family="Liberation Mono" text-anchor="middle" dominant-baseline="central" transform="rotate(-90 197.0 636.5)" >H:Raise clearance</text><rect x="180.7" y="765.1" width="179.6" height="232.8" stroke="#1a1a1a" stroke-width="2.6" fill="none"/><rect x="184.6" y="765.5" width="36.9" height="23.1" stroke="#1a1a1a" stroke-width="0.85" fill="none"/><rect x="319.5" y="765.5" width="37.4" height="23.1" stroke="#1a1a1a" stroke-width="0.85" fill="none"/><line x1="191.3" y1="788.6" x2="191.3" y2="997.9" stroke="#1a1a1a" stroke-width="0.85" /><line x1="214.8" y1="788.6" x2="214.8" y2="997.9" stroke="#1a1a1a" stroke-width="0.85" /><line x1="326.7" y1="788.6" x2="326.7" y2="997.9" stroke="#1a1a1a" stroke-width="0.85" /><line x1="350.2" y1="788.6" x2="350.2" y2="997.9" stroke="#1a1a1a" stroke-width="0.85" /><line x1="203.1" y1="760.0" x2="203.1" y2="1003.5" stroke="#3a3a3a" stroke-width="0.85" /><circle cx="236.6" cy="845.7" r="15.5" stroke="#1a1a1a" stroke-width="2.0" fill="none" /><path d="M253.4,850.2 A17.4,17.4 0 1 0 239.5,862.8" stroke="#1a1a1a" stroke-width="0.85" fill="none" /><circle cx="236.5" cy="814.3" r="6.6" stroke="#444" stroke-width="0.85" fill="none" /><text x="236.5" y="814.6" font-size="8.5" fill="#444" font-family="Liberation Serif" text-anchor="middle" dominant-baseline="central" >B</text><line x1="218.0" y1="845.7" x2="391.6" y2="845.7" stroke="#4a4a4a" stroke-width="0.85" /><line x1="236.5" y1="828.0" x2="236.5" y2="864.0" stroke="#4a4a4a" stroke-width="0.85" /><line x1="252.8" y1="840.5" x2="298.7" y2="828.9" stroke="#4a4a4a" stroke-width="0.85" /><polygon points="252.8,840.5 259.1,836.7 260.1,840.9" fill="#4a4a4a"/><text x="285.3" y="824.5" font-size="10.5" fill="#444" font-family="Liberation Serif" text-anchor="middle" dominant-baseline="central" transform="rotate(-15 285.3 824.5)" >2-M</text><circle cx="304.3" cy="949.8" r="15.5" stroke="#1a1a1a" stroke-width="2.0" fill="none" /><path d="M321.2,954.3 A17.4,17.4 0 1 0 307.3,966.9" stroke="#1a1a1a" stroke-width="0.85" fill="none" /><circle cx="304.3" cy="918.0" r="6.6" stroke="#444" stroke-width="0.85" fill="none" /><text x="304.3" y="918.3" font-size="8.5" fill="#444" font-family="Liberation Serif" text-anchor="middle" dominant-baseline="central" >A</text><line x1="286.0" y1="949.8" x2="391.6" y2="949.8" stroke="#4a4a4a" stroke-width="0.85" /><line x1="304.3" y1="932.0" x2="304.3" y2="968.0" stroke="#4a4a4a" stroke-width="0.85" /><line x1="386.7" y1="845.7" x2="386.7" y2="949.8" stroke="#4a4a4a" stroke-width="0.85" /><polygon points="386.7,845.7 388.9,852.7 384.5,852.7" fill="#4a4a4a"/><polygon points="386.7,949.8 384.5,942.8 388.9,942.8" fill="#4a4a4a"/><line x1="386.7" y1="949.8" x2="386.7" y2="997.9" stroke="#4a4a4a" stroke-width="0.85" /><polygon points="386.7,949.8 388.9,956.8 384.5,956.8" fill="#4a4a4a"/><polygon points="386.7,997.9 384.5,990.9 388.9,990.9" fill="#4a4a4a"/><text x="380.4" y="897.2" font-size="11" fill="#444" font-family="Liberation Serif" text-anchor="middle" dominant-baseline="central" transform="rotate(-90 380.4 897.2)" >N3</text><text x="380.4" y="973.3" font-size="11" fill="#444" font-family="Liberation Serif" text-anchor="middle" dominant-baseline="central" transform="rotate(-90 380.4 973.3)" >N2</text><line x1="936.0" y1="516.0" x2="936.0" y2="622.0" stroke="#4a4a4a" stroke-width="0.85" /><line x1="1136.8" y1="516.0" x2="1136.8" y2="752.0" stroke="#4a4a4a" stroke-width="0.85" /><line x1="936.0" y1="520.8" x2="1136.8" y2="520.8" stroke="#4a4a4a" stroke-width="0.85" /><polygon points="936.0,520.8 943.0,518.6 943.0,523.0" fill="#4a4a4a"/><polygon points="1136.8,520.8 1129.8,523.0 1129.8,518.6" fill="#4a4a4a"/><text x="1036.5" y="513.0" font-size="11.5" fill="#444" font-family="Liberation Serif" text-anchor="middle" dominant-baseline="central" >F</text><line x1="965.1" y1="539.8" x2="1136.8" y2="539.8" stroke="#4a4a4a" stroke-width="0.85" /><polygon points="965.1,539.8 972.1,537.6 972.1,542.0" fill="#4a4a4a"/><polygon points="1136.8,539.8 1129.8,542.0 1129.8,537.6" fill="#4a4a4a"/><text x="1050.5" y="532.0" font-size="11.5" fill="#444" font-family="Liberation Serif" text-anchor="middle" dominant-baseline="central" >G1</text><line x1="965.1" y1="558.5" x2="1032.5" y2="558.5" stroke="#4a4a4a" stroke-width="0.85" /><polygon points="965.1,558.5 972.1,556.3 972.1,560.7" fill="#4a4a4a"/><polygon points="1032.5,558.5 1025.5,560.7 1025.5,556.3" fill="#4a4a4a"/><text x="999.5" y="551.0" font-size="11.5" fill="#444" font-family="Liberation Serif" text-anchor="middle" dominant-baseline="central" >G2</text><line x1="1052.5" y1="558.5" x2="1086.5" y2="558.5" stroke="#4a4a4a" stroke-width="0.85" /><polygon points="1058.6,558.5 1051.6,560.7 1051.6,556.3" fill="#4a4a4a"/><polygon points="1080.1,558.5 1087.1,556.3 1087.1,560.7" fill="#4a4a4a"/><text x="1069.5" y="551.5" font-size="11.5" fill="#444" font-family="Liberation Serif" text-anchor="middle" dominant-baseline="central" >T</text><line x1="1032.5" y1="554.0" x2="1032.5" y2="1003.0" stroke="#3a3a3a" stroke-width="0.85" /><line x1="1058.6" y1="554.0" x2="1058.6" y2="624.0" stroke="#4a4a4a" stroke-width="0.85" /><line x1="1080.1" y1="554.0" x2="1080.1" y2="587.0" stroke="#4a4a4a" stroke-width="0.85" /><line x1="965.1" y1="535.0" x2="965.1" y2="1003.5" stroke="#3a3a3a" stroke-width="0.85" /><polyline points="1007.8,594.3 1051.5,569.3 1080.1,587.0 1032.5,665.4" stroke="#3a3a3a" stroke-width="0.85" fill="none" stroke-linejoin="miter"/><line x1="1007.8" y1="594.3" x2="1055.3" y2="623.7" stroke="#3a3a3a" stroke-width="0.85" /><line x1="1007.8" y1="594.3" x2="976.3" y2="645.4" stroke="#3a3a3a" stroke-width="0.85" /><line x1="976.3" y1="645.4" x2="956.5" y2="678.0" stroke="#3a3a3a" stroke-width="0.85" /><path d="M1077.7,592.6 Q1090.5,604 1093.5,623" stroke="#4a4a4a" stroke-width="0.85" fill="none" /><polygon points="1077.7,592.6 1083.7,594.8 1080.9,598.1" fill="#4a4a4a"/><polygon points="1093.5,623.2 1091.1,617.3 1095.5,617.1" fill="#4a4a4a"/><text x="1097.0" y="602.0" font-size="11" fill="#444" font-family="Liberation Serif" text-anchor="middle" dominant-baseline="central" transform="rotate(-60 1097.0 602.0)" >Q</text><line x1="912.7" y1="613.4" x2="947.9" y2="613.4" stroke="#4a4a4a" stroke-width="0.85" /><line x1="912.7" y1="623.9" x2="936.0" y2="623.9" stroke="#4a4a4a" stroke-width="0.85" /><line x1="917.3" y1="595.2" x2="917.3" y2="652.8" stroke="#4a4a4a" stroke-width="0.85" /><polygon points="917.3,613.4 915.1,606.4 919.5,606.4" fill="#4a4a4a"/><polygon points="917.3,623.9 919.5,630.9 915.1,630.9" fill="#4a4a4a"/><text x="910.3" y="647.3" font-size="11.5" fill="#444" font-family="Liberation Serif" text-anchor="middle" dominant-baseline="central" transform="rotate(-90 910.3 647.3)" >H</text><polyline points="943.7,624.0 947.8,613.6 982.3,613.6 987.0,624.0" stroke="#3a3a3a" stroke-width="0.85" fill="none" stroke-linejoin="miter"/><line x1="938.0" y1="636.5" x2="959.0" y2="613.6" stroke="#3a3a3a" stroke-width="0.85" /><line x1="968.3" y1="613.6" x2="992.5" y2="636.5" stroke="#3a3a3a" stroke-width="0.85" /><line x1="940.8" y1="635.2" x2="940.8" y2="666.7" stroke="#3a3a3a" stroke-width="0.85" /><polyline points="936.0,666.7 936.0,624.0 1092.6,624.0 1136.8,648.2 1136.8,681.8 1059.0,681.8" stroke="#1a1a1a" stroke-width="2.2" fill="none" stroke-linejoin="miter"/><line x1="1092.6" y1="624.0" x2="1092.6" y2="681.8" stroke="#1a1a1a" stroke-width="2.2" /><polyline points="936.0,666.7 952.7,681.3 1006.4,681.3" stroke="#1a1a1a" stroke-width="2.2" fill="none" stroke-linejoin="miter"/><line x1="936.0" y1="666.7" x2="936.0" y2="692.8" stroke="#1a1a1a" stroke-width="2.2" /><line x1="988.7" y1="634.0" x2="988.7" y2="687.0" stroke="#1a1a1a" stroke-width="0.85" /><line x1="991.9" y1="634.0" x2="991.9" y2="687.0" stroke="#1a1a1a" stroke-width="0.85" /><polygon points="937.5,688.0 936.0,692.8 995.0,692.8 991.9,687.2 937.5,687.2" stroke="#1a1a1a" stroke-width="1.6" fill="none" stroke-linejoin="miter"/><line x1="1001.2" y1="624.0" x2="1001.2" y2="681.0" stroke="#777" stroke-width="1.0" /><circle cx="964.9" cy="652.8" r="13.3" stroke="#1a1a1a" stroke-width="2.2" fill="none" /><line x1="950.5" y1="653.0" x2="979.5" y2="653.0" stroke="#666" stroke-width="1.2" /><circle cx="1001.2" cy="660.0" r="12.6" stroke="#555" stroke-width="0.85" fill="none" /><line x1="986.5" y1="668.0" x2="1015.5" y2="655.0" stroke="#555" stroke-width="0.85" /><line x1="993.5" y1="645.0" x2="1005.5" y2="675.0" stroke="#555" stroke-width="0.85" /><line x1="912.1" y1="684.3" x2="984.3" y2="641.3" stroke="#4a4a4a" stroke-width="0.85" /><polygon points="952.2,660.6 947.3,666.1 945.1,662.3" fill="#4a4a4a"/><polygon points="978.0,645.1 982.9,639.6 985.1,643.4" fill="#4a4a4a"/><text x="915.7" y="673.4" font-size="11" fill="#444" font-family="Liberation Serif" text-anchor="middle" dominant-baseline="central" transform="rotate(-35 915.7 673.4)" >ØD</text><path d="M1006.6,765 L1006.6,652.3 A26.2,26.2 0 0 1 1059.0,652.3 L1059.0,765" stroke="#1a1a1a" stroke-width="2.2" fill="none" /><circle cx="1032.5" cy="653.0" r="13.3" stroke="#1a1a1a" stroke-width="2.2" fill="none" /><line x1="1016.5" y1="653.0" x2="1083.3" y2="653.0" stroke="#4a4a4a" stroke-width="0.85" /><line x1="1032.5" y1="640.0" x2="1032.5" y2="666.0" stroke="#4a4a4a" stroke-width="0.85" /><path d="M1006.6,728.7 A26.2,26.2 0 0 0 1059.0,728.7" stroke="#1a1a1a" stroke-width="2.2" fill="none" /><polyline points="1006.6,713.4 1018.1,702.3 1046.6,702.3 1059.0,712.6" stroke="#1a1a1a" stroke-width="0.85" fill="none" stroke-linejoin="miter"/><circle cx="1033.1" cy="728.7" r="13.3" stroke="#1a1a1a" stroke-width="2.2" fill="none" /><line x1="1018.5" y1="728.7" x2="1083.1" y2="728.7" stroke="#4a4a4a" stroke-width="0.85" /><line x1="1033.1" y1="714.0" x2="1033.1" y2="743.0" stroke="#4a4a4a" stroke-width="0.85" /><rect x="935.9" y="692.8" width="58.4" height="72.3" stroke="#1a1a1a" stroke-width="2.2" fill="none"/><line x1="940.4" y1="735.0" x2="940.4" y2="757.8" stroke="#3a3a3a" stroke-width="0.85" /><line x1="989.5" y1="735.0" x2="989.5" y2="757.8" stroke="#3a3a3a" stroke-width="0.85" /><line x1="937.5" y1="752.2" x2="992.5" y2="752.2" stroke="#3a3a3a" stroke-width="0.85" /><line x1="937.5" y1="757.8" x2="992.5" y2="757.8" stroke="#3a3a3a" stroke-width="0.85" /><circle cx="964.9" cy="717.3" r="13.5" stroke="#555" stroke-width="0.85" fill="none" /><line x1="950.5" y1="709.0" x2="979.5" y2="725.0" stroke="#555" stroke-width="0.85" /><line x1="956.5" y1="731.0" x2="973.5" y2="703.0" stroke="#555" stroke-width="0.85" /><polygon points="926.1,726.3 961.8,747.7 983.2,743.0 999.0,717.6 992.5,700.0 956.5,690.0" stroke="#555" stroke-width="0.85" fill="none" stroke-linejoin="miter"/><line x1="956.5" y1="678.0" x2="936.0" y2="713.0" stroke="#3a3a3a" stroke-width="0.85" /><line x1="1032.5" y1="660.0" x2="1057.5" y2="716.0" stroke="#3a3a3a" stroke-width="0.85" /><line x1="974.6" y1="664.5" x2="1007.0" y2="733.5" stroke="#3a3a3a" stroke-width="0.85" /><line x1="1078.3" y1="653.0" x2="1078.3" y2="728.7" stroke="#4a4a4a" stroke-width="0.85" /><polygon points="1078.3,653.0 1080.5,660.0 1076.1,660.0" fill="#4a4a4a"/><polygon points="1078.3,728.7 1076.1,721.7 1080.5,721.7" fill="#4a4a4a"/><text x="1072.5" y="691.0" font-size="11" fill="#444" font-family="Liberation Serif" text-anchor="middle" dominant-baseline="central" transform="rotate(-90 1072.5 691.0)" >G3</text><line x1="1059.0" y1="747.7" x2="1136.8" y2="747.7" stroke="#4a4a4a" stroke-width="0.85" /><polygon points="1059.0,747.7 1066.0,745.5 1066.0,749.9" fill="#4a4a4a"/><polygon points="1136.8,747.7 1129.8,749.9 1129.8,745.5" fill="#4a4a4a"/><text x="1097.5" y="740.5" font-size="11" fill="#444" font-family="Liberation Serif" text-anchor="middle" dominant-baseline="central" >E</text><line x1="1092.5" y1="624.0" x2="1204.5" y2="624.0" stroke="#4a4a4a" stroke-width="0.85" /><line x1="1138.5" y1="648.2" x2="1161.5" y2="648.2" stroke="#4a4a4a" stroke-width="0.85" /><line x1="1138.5" y1="681.8" x2="1184.0" y2="681.8" stroke="#4a4a4a" stroke-width="0.85" /><line x1="1157.0" y1="648.2" x2="1157.0" y2="681.8" stroke="#4a4a4a" stroke-width="0.85" /><polygon points="1157.0,648.2 1159.2,655.2 1154.8,655.2" fill="#4a4a4a"/><polygon points="1157.0,681.8 1154.8,674.8 1159.2,674.8" fill="#4a4a4a"/><text x="1149.9" y="664.4" font-size="11" fill="#444" font-family="Liberation Serif" text-anchor="middle" dominant-baseline="central" transform="rotate(-90 1149.9 664.4)" >C2</text><line x1="1179.0" y1="624.0" x2="1179.0" y2="681.8" stroke="#4a4a4a" stroke-width="0.85" /><polygon points="1179.0,624.0 1181.2,631.0 1176.8,631.0" fill="#4a4a4a"/><polygon points="1179.0,681.8 1176.8,674.8 1181.2,674.8" fill="#4a4a4a"/><text x="1172.8" y="653.2" font-size="11" fill="#444" font-family="Liberation Serif" text-anchor="middle" dominant-baseline="central" transform="rotate(-90 1172.8 653.2)" >C1</text><line x1="1179.5" y1="681.8" x2="1179.5" y2="999.3" stroke="#4a4a4a" stroke-width="0.85" /><polygon points="1179.5,681.8 1181.7,688.8 1177.3,688.8" fill="#4a4a4a"/><polygon points="1179.5,999.3 1177.3,992.3 1181.7,992.3" fill="#4a4a4a"/><text x="1173.4" y="839.5" font-size="11" fill="#444" font-family="Liberation Serif" text-anchor="middle" dominant-baseline="central" transform="rotate(-90 1173.4 839.5)" >A1</text><line x1="1199.4" y1="624.0" x2="1199.4" y2="999.3" stroke="#4a4a4a" stroke-width="0.85" /><polygon points="1199.4,624.0 1201.6,631.0 1197.2,631.0" fill="#4a4a4a"/><polygon points="1199.4,999.3 1197.2,992.3 1201.6,992.3" fill="#4a4a4a"/><text x="1193.3" y="810.8" font-size="11" fill="#444" font-family="Liberation Serif" text-anchor="middle" dominant-baseline="central" transform="rotate(-90 1193.3 810.8)" >A2</text><line x1="1054.5" y1="765.0" x2="1112.2" y2="765.0" stroke="#4a4a4a" stroke-width="0.85" /><line x1="1107.6" y1="765.0" x2="1107.6" y2="999.3" stroke="#4a4a4a" stroke-width="0.85" /><polygon points="1107.6,765.0 1109.8,772.0 1105.4,772.0" fill="#4a4a4a"/><polygon points="1107.6,999.3 1105.4,992.3 1109.8,992.3" fill="#4a4a4a"/><text x="1102.6" y="880.8" font-size="11" fill="#444" font-family="Liberation Serif" text-anchor="middle" dominant-baseline="central" transform="rotate(-90 1102.6 880.8)" >B</text><line x1="1054.5" y1="999.3" x2="1204.0" y2="999.3" stroke="#4a4a4a" stroke-width="0.85" /><text x="875.7" y="660.0" font-size="11.5" fill="#555" font-family="Liberation Mono" text-anchor="middle" dominant-baseline="central" transform="rotate(-90 875.7 660.0)" >H:上升餘隙</text><text x="891.5" y="636.5" font-size="11.2" fill="#555" font-family="Liberation Mono" text-anchor="middle" dominant-baseline="central" transform="rotate(-90 891.5 636.5)" >H:Raise clearance</text><rect x="875.2" y="765.1" width="179.6" height="232.8" stroke="#1a1a1a" stroke-width="2.6" fill="none"/><rect x="879.1" y="765.5" width="36.9" height="23.1" stroke="#1a1a1a" stroke-width="0.85" fill="none"/><rect x="1014.0" y="765.5" width="37.4" height="23.1" stroke="#1a1a1a" stroke-width="0.85" fill="none"/><line x1="885.8" y1="788.6" x2="885.8" y2="997.9" stroke="#1a1a1a" stroke-width="0.85" /><line x1="909.3" y1="788.6" x2="909.3" y2="997.9" stroke="#1a1a1a" stroke-width="0.85" /><line x1="1021.2" y1="788.6" x2="1021.2" y2="997.9" stroke="#1a1a1a" stroke-width="0.85" /><line x1="1044.7" y1="788.6" x2="1044.7" y2="997.9" stroke="#1a1a1a" stroke-width="0.85" /><line x1="897.6" y1="760.0" x2="897.6" y2="1003.5" stroke="#3a3a3a" stroke-width="0.85" /><circle cx="931.1" cy="845.8" r="5.3" stroke="#1a1a1a" stroke-width="1.3" fill="none" /><line x1="925.8" y1="845.8" x2="936.4" y2="845.8" stroke="#1a1a1a" stroke-width="0.85" /><line x1="931.1" y1="840.5" x2="931.1" y2="1003.0" stroke="#555" stroke-width="0.85" /><line x1="925.8" y1="845.8" x2="925.8" y2="997.0" stroke="#1a1a1a" stroke-width="0.85" /><line x1="936.4" y1="845.8" x2="936.4" y2="997.0" stroke="#1a1a1a" stroke-width="0.85" /><rect x="918.1" y="995.8" width="26.0" height="2.2" stroke="#1a1a1a" stroke-width="1.0" fill="none"/><circle cx="999.2" cy="950.0" r="5.3" stroke="#1a1a1a" stroke-width="1.3" fill="none" /><line x1="993.9" y1="950.0" x2="1004.5" y2="950.0" stroke="#1a1a1a" stroke-width="0.85" /><line x1="999.2" y1="944.7" x2="999.2" y2="1003.0" stroke="#555" stroke-width="0.85" /><line x1="993.9" y1="950.0" x2="993.9" y2="997.0" stroke="#1a1a1a" stroke-width="0.85" /><line x1="1004.5" y1="950.0" x2="1004.5" y2="997.0" stroke="#1a1a1a" stroke-width="0.85" /><rect x="986.2" y="995.8" width="26.0" height="2.2" stroke="#1a1a1a" stroke-width="1.0" fill="none"/><line x1="918.2" y1="999.0" x2="918.2" y2="1025.4" stroke="#4a4a4a" stroke-width="0.85" /><line x1="944.3" y1="999.0" x2="944.3" y2="1025.4" stroke="#4a4a4a" stroke-width="0.85" /><line x1="866.0" y1="1021.3" x2="944.3" y2="1021.3" stroke="#4a4a4a" stroke-width="0.85" /><polygon points="918.2,1021.3 925.2,1019.1 925.2,1023.5" fill="#4a4a4a"/><polygon points="944.3,1021.3 937.3,1023.5 937.3,1019.1" fill="#4a4a4a"/><text x="888.3" y="1012.7" font-size="12" fill="#555" font-family="Liberation Serif" text-anchor="middle" dominant-baseline="central" transform="translate(888.3 1012.7) scale(1.05 1) translate(-888.3 -1012.7)">O-Ring</text><polygon points="197.2,1074.5 343.8,1074.5 360.8,1090.5 360.8,1239.0 344.3,1254.4 197.4,1254.4 180.3,1238.0 180.3,1090.7" stroke="#1a1a1a" stroke-width="1.7" fill="none" stroke-linejoin="miter"/><circle cx="203.1" cy="1096.9" r="17.9" stroke="#1a1a1a" stroke-width="1.9" fill="none" /><circle cx="203.1" cy="1096.9" r="11.8" stroke="#1a1a1a" stroke-width="1.9" fill="none" /><line x1="203.1" y1="1075.9" x2="203.1" y2="1117.9" stroke="#555" stroke-width="0.85" /><circle cx="338.4" cy="1096.9" r="17.9" stroke="#1a1a1a" stroke-width="1.9" fill="none" /><circle cx="338.4" cy="1096.9" r="11.8" stroke="#1a1a1a" stroke-width="1.9" fill="none" /><line x1="338.4" y1="1075.9" x2="338.4" y2="1117.9" stroke="#555" stroke-width="0.85" /><circle cx="202.9" cy="1232.4" r="17.9" stroke="#1a1a1a" stroke-width="1.9" fill="none" /><circle cx="202.9" cy="1232.4" r="11.8" stroke="#1a1a1a" stroke-width="1.9" fill="none" /><line x1="202.9" y1="1211.4" x2="202.9" y2="1253.4" stroke="#555" stroke-width="0.85" /><circle cx="338.1" cy="1232.4" r="17.9" stroke="#1a1a1a" stroke-width="1.9" fill="none" /><circle cx="338.1" cy="1232.4" r="11.8" stroke="#1a1a1a" stroke-width="1.9" fill="none" /><line x1="338.1" y1="1211.4" x2="338.1" y2="1253.4" stroke="#555" stroke-width="0.85" /><line x1="176.0" y1="1096.9" x2="364.0" y2="1096.9" stroke="#666" stroke-width="0.85" /><line x1="176.0" y1="1232.4" x2="364.0" y2="1232.4" stroke="#666" stroke-width="0.85" /><line x1="175.6" y1="1164.0" x2="449.0" y2="1164.0" stroke="#444" stroke-width="0.85" /><line x1="270.6" y1="1069.0" x2="270.6" y2="1264.0" stroke="#444" stroke-width="0.85" /><line x1="219.4" y1="1074.5" x2="219.4" y2="1100.6" stroke="#555" stroke-width="0.85" /><line x1="221.4" y1="1074.5" x2="220.7" y2="1100.6" stroke="#555" stroke-width="0.85" /><line x1="219.4" y1="1254.4" x2="219.4" y2="1224.7" stroke="#555" stroke-width="0.85" /><line x1="221.4" y1="1254.4" x2="220.7" y2="1224.7" stroke="#555" stroke-width="0.85" /><line x1="250.7" y1="1074.5" x2="250.7" y2="1100.6" stroke="#555" stroke-width="0.85" /><line x1="252.7" y1="1074.5" x2="252.0" y2="1100.6" stroke="#555" stroke-width="0.85" /><line x1="250.7" y1="1254.4" x2="250.7" y2="1224.7" stroke="#555" stroke-width="0.85" /><line x1="252.7" y1="1254.4" x2="252.0" y2="1224.7" stroke="#555" stroke-width="0.85" /><line x1="287.5" y1="1074.5" x2="287.5" y2="1100.6" stroke="#555" stroke-width="0.85" /><line x1="289.5" y1="1074.5" x2="288.8" y2="1100.6" stroke="#555" stroke-width="0.85" /><line x1="287.5" y1="1254.4" x2="287.5" y2="1224.7" stroke="#555" stroke-width="0.85" /><line x1="289.5" y1="1254.4" x2="288.8" y2="1224.7" stroke="#555" stroke-width="0.85" /><line x1="319.2" y1="1074.5" x2="319.2" y2="1100.6" stroke="#555" stroke-width="0.85" /><line x1="321.2" y1="1074.5" x2="320.5" y2="1100.6" stroke="#555" stroke-width="0.85" /><line x1="319.2" y1="1254.4" x2="319.2" y2="1224.7" stroke="#555" stroke-width="0.85" /><line x1="321.2" y1="1254.4" x2="320.5" y2="1224.7" stroke="#555" stroke-width="0.85" /><line x1="236.6" y1="1053.0" x2="236.6" y2="1104.4" stroke="#4a4a4a" stroke-width="0.85" /><line x1="236.6" y1="1224.7" x2="236.6" y2="1258.4" stroke="#4a4a4a" stroke-width="0.85" /><line x1="304.4" y1="1053.0" x2="304.4" y2="1104.4" stroke="#4a4a4a" stroke-width="0.85" /><line x1="304.4" y1="1224.7" x2="304.4" y2="1258.4" stroke="#4a4a4a" stroke-width="0.85" /><line x1="236.6" y1="1057.7" x2="304.4" y2="1057.7" stroke="#4a4a4a" stroke-width="0.85" /><polygon points="236.6,1057.7 243.6,1055.5 243.6,1059.9" fill="#4a4a4a"/><polygon points="304.4,1057.7 297.4,1059.9 297.4,1055.5" fill="#4a4a4a"/><text x="270.7" y="1050.5" font-size="11.5" fill="#444" font-family="Liberation Serif" text-anchor="middle" dominant-baseline="central" >N1</text><line x1="202.9" y1="1236.0" x2="202.9" y2="1277.0" stroke="#4a4a4a" stroke-width="0.85" /><line x1="338.1" y1="1236.0" x2="338.1" y2="1277.0" stroke="#4a4a4a" stroke-width="0.85" /><line x1="202.9" y1="1273.0" x2="338.1" y2="1273.0" stroke="#4a4a4a" stroke-width="0.85" /><polygon points="202.9,1273.0 209.9,1270.8 209.9,1275.2" fill="#4a4a4a"/><polygon points="338.1,1273.0 331.1,1275.2 331.1,1270.8" fill="#4a4a4a"/><text x="270.6" y="1266.0" font-size="11.5" fill="#444" font-family="Liberation Serif" text-anchor="middle" dominant-baseline="central" >K</text><line x1="180.3" y1="1240.0" x2="180.3" y2="1294.7" stroke="#4a4a4a" stroke-width="0.85" /><line x1="360.8" y1="1240.0" x2="360.8" y2="1294.7" stroke="#4a4a4a" stroke-width="0.85" /><line x1="180.3" y1="1290.7" x2="360.8" y2="1290.7" stroke="#4a4a4a" stroke-width="0.85" /><polygon points="180.3,1290.7 187.3,1288.5 187.3,1292.9" fill="#4a4a4a"/><polygon points="360.8,1290.7 353.8,1292.9 353.8,1288.5" fill="#4a4a4a"/><text x="270.6" y="1282.7" font-size="11.5" fill="#444" font-family="Liberation Serif" text-anchor="middle" dominant-baseline="central" >J</text><rect x="241.5" y="1135.7" width="70.5" height="57.7" stroke="#1a1a1a" stroke-width="1.9" fill="none"/><rect x="241.5" y="1151.4" width="66.0" height="26.3" stroke="#1a1a1a" stroke-width="1.6" fill="none"/><path d="M247.0,1151.4 Q240.0,1164.5 247.0,1177.7" stroke="#1a1a1a" stroke-width="1.6" fill="none" /><path d="M289.0,1151.4 Q296.0,1164.5 289.0,1177.7" stroke="#1a1a1a" stroke-width="1.6" fill="none" /><path d="M297.0,1151.4 Q304.0,1164.5 297.0,1177.7" stroke="#1a1a1a" stroke-width="1.3" fill="none" /><line x1="257.3" y1="1129.6" x2="257.3" y2="1199.6" stroke="#1a1a1a" stroke-width="0.85" /><line x1="283.4" y1="1129.6" x2="283.4" y2="1199.6" stroke="#1a1a1a" stroke-width="0.85" /><rect x="254.0" y="1129.6" width="33.5" height="6.1" stroke="#1a1a1a" stroke-width="0.85" fill="none"/><rect x="254.0" y="1193.4" width="33.5" height="6.2" stroke="#1a1a1a" stroke-width="0.85" fill="none"/><line x1="257.0" y1="1128.3" x2="284.0" y2="1128.3" stroke="#1a1a1a" stroke-width="3.0" /><line x1="257.0" y1="1200.8" x2="284.0" y2="1200.8" stroke="#1a1a1a" stroke-width="3.0" /><line x1="312.0" y1="1135.9" x2="397.4" y2="1135.9" stroke="#1a1a1a" stroke-width="1.9" /><line x1="312.0" y1="1193.4" x2="397.4" y2="1193.4" stroke="#1a1a1a" stroke-width="1.9" /><polygon points="397.4,1135.9 442.6,1147.5 442.6,1181.8 397.4,1193.4" stroke="#1a1a1a" stroke-width="1.9" fill="none" stroke-linejoin="miter"/><rect x="311.6" y="1119.7" width="53.3" height="89.6" stroke="#1a1a1a" stroke-width="1.9" fill="none"/><line x1="324.6" y1="1113.7" x2="324.6" y2="1214.2" stroke="#1a1a1a" stroke-width="0.85" /><line x1="338.5" y1="1113.7" x2="338.5" y2="1214.2" stroke="#1a1a1a" stroke-width="0.85" /><line x1="351.9" y1="1113.7" x2="351.9" y2="1214.2" stroke="#1a1a1a" stroke-width="0.85" /><line x1="360.4" y1="1113.7" x2="360.4" y2="1214.2" stroke="#1a1a1a" stroke-width="0.85" /><rect x="321.3" y="1113.7" width="33.5" height="6.0" stroke="#1a1a1a" stroke-width="0.85" fill="none"/><rect x="321.3" y="1209.3" width="33.5" height="4.9" stroke="#1a1a1a" stroke-width="0.85" fill="none"/><line x1="324.0" y1="1112.3" x2="352.0" y2="1112.3" stroke="#1a1a1a" stroke-width="3.0" /><line x1="324.0" y1="1215.5" x2="352.0" y2="1215.5" stroke="#1a1a1a" stroke-width="3.0" /><line x1="221.0" y1="1151.4" x2="241.5" y2="1151.4" stroke="#4a4a4a" stroke-width="0.85" /><line x1="221.0" y1="1177.7" x2="241.5" y2="1177.7" stroke="#4a4a4a" stroke-width="0.85" /><line x1="225.6" y1="1151.4" x2="225.6" y2="1177.7" stroke="#4a4a4a" stroke-width="0.85" /><polygon points="225.6,1151.4 227.8,1158.4 223.4,1158.4" fill="#4a4a4a"/><polygon points="225.6,1177.7 223.4,1170.7 227.8,1170.7" fill="#4a4a4a"/><text x="217.6" y="1164.5" font-size="11" fill="#444" font-family="Liberation Serif" text-anchor="middle" dominant-baseline="central" transform="rotate(-90 217.6 1164.5)" >C3</text><line x1="362.0" y1="1096.9" x2="509.3" y2="1096.9" stroke="#4a4a4a" stroke-width="0.85" /><line x1="362.0" y1="1232.4" x2="509.3" y2="1232.4" stroke="#4a4a4a" stroke-width="0.85" /><line x1="362.0" y1="1074.5" x2="530.0" y2="1074.5" stroke="#4a4a4a" stroke-width="0.85" /><line x1="362.0" y1="1254.4" x2="530.0" y2="1254.4" stroke="#4a4a4a" stroke-width="0.85" /><line x1="399.0" y1="1135.9" x2="489.2" y2="1135.9" stroke="#4a4a4a" stroke-width="0.85" /><line x1="399.0" y1="1193.4" x2="489.2" y2="1193.4" stroke="#4a4a4a" stroke-width="0.85" /><line x1="444.0" y1="1147.5" x2="466.8" y2="1147.5" stroke="#4a4a4a" stroke-width="0.85" /><line x1="444.0" y1="1181.8" x2="466.8" y2="1181.8" stroke="#4a4a4a" stroke-width="0.85" /><line x1="462.7" y1="1147.5" x2="462.7" y2="1181.8" stroke="#4a4a4a" stroke-width="0.85" /><polygon points="462.7,1147.5 464.9,1154.5 460.5,1154.5" fill="#4a4a4a"/><polygon points="462.7,1181.8 460.5,1174.8 464.9,1174.8" fill="#4a4a4a"/><line x1="484.7" y1="1135.9" x2="484.7" y2="1193.4" stroke="#4a4a4a" stroke-width="0.85" /><polygon points="484.7,1135.9 486.9,1142.9 482.5,1142.9" fill="#4a4a4a"/><polygon points="484.7,1193.4 482.5,1186.4 486.9,1186.4" fill="#4a4a4a"/><line x1="504.8" y1="1096.9" x2="504.8" y2="1232.4" stroke="#4a4a4a" stroke-width="0.85" /><polygon points="504.8,1096.9 507.0,1103.9 502.6,1103.9" fill="#4a4a4a"/><polygon points="504.8,1232.4 502.6,1225.4 507.0,1225.4" fill="#4a4a4a"/><line x1="525.7" y1="1074.5" x2="525.7" y2="1254.4" stroke="#4a4a4a" stroke-width="0.85" /><polygon points="525.7,1074.5 527.9,1081.5 523.5,1081.5" fill="#4a4a4a"/><polygon points="525.7,1254.4 523.5,1247.4 527.9,1247.4" fill="#4a4a4a"/><text x="455.6" y="1164.5" font-size="11" fill="#444" font-family="Liberation Serif" text-anchor="middle" dominant-baseline="central" transform="rotate(-90 455.6 1164.5)" >C2</text><text x="478.0" y="1164.5" font-size="11" fill="#444" font-family="Liberation Serif" text-anchor="middle" dominant-baseline="central" transform="rotate(-90 478.0 1164.5)" >C1</text><text x="498.1" y="1164.5" font-size="11" fill="#444" font-family="Liberation Serif" text-anchor="middle" dominant-baseline="central" transform="rotate(-90 498.1 1164.5)" >K</text><text x="518.3" y="1164.5" font-size="11" fill="#444" font-family="Liberation Serif" text-anchor="middle" dominant-baseline="central" transform="rotate(-90 518.3 1164.5)" >J</text><path d="M426.5,1167.2 Q434.0,1174 435.4,1181.8" stroke="#4a4a4a" stroke-width="0.85" fill="none" /><polygon points="435.4,1181.8 432.2,1176.3 436.5,1175.5" fill="#4a4a4a"/><path d="M436.6,1195.2 Q437.0,1204 433.2,1210.9" stroke="#4a4a4a" stroke-width="0.85" fill="none" /><polygon points="436.6,1195.2 438.8,1201.2 434.4,1201.2" fill="#4a4a4a"/><text x="427.0" y="1206.0" font-size="11" fill="#444" font-family="Liberation Serif" text-anchor="middle" dominant-baseline="central" transform="rotate(-70 427.0 1206.0)" >15°</text><line x1="307.1" y1="1116.1" x2="403.9" y2="1057.6" stroke="#4a4a4a" stroke-width="0.85" /><polygon points="320.0,1108.3 315.1,1113.8 312.9,1110.0" fill="#4a4a4a"/><polygon points="356.5,1086.2 361.4,1080.7 363.6,1084.5" fill="#4a4a4a"/><text x="385.0" y="1053.0" font-size="11" fill="#444" font-family="Liberation Serif" text-anchor="middle" dominant-baseline="central" transform="rotate(-32 385.0 1053.0)" >4-ØL</text><polygon points="891.9,1074.5 1038.5,1074.5 1055.5,1090.5 1055.5,1239.0 1039.0,1254.4 892.1,1254.4 875.0,1238.0 875.0,1090.7" stroke="#1a1a1a" stroke-width="1.7" fill="none" stroke-linejoin="miter"/><circle cx="897.8" cy="1096.9" r="17.9" stroke="#1a1a1a" stroke-width="1.9" fill="none" /><circle cx="897.8" cy="1096.9" r="11.8" stroke="#1a1a1a" stroke-width="1.9" fill="none" /><line x1="897.8" y1="1075.9" x2="897.8" y2="1117.9" stroke="#555" stroke-width="0.85" /><circle cx="1033.1" cy="1096.9" r="17.9" stroke="#1a1a1a" stroke-width="1.9" fill="none" /><circle cx="1033.1" cy="1096.9" r="11.8" stroke="#1a1a1a" stroke-width="1.9" fill="none" /><line x1="1033.1" y1="1075.9" x2="1033.1" y2="1117.9" stroke="#555" stroke-width="0.85" /><circle cx="897.6" cy="1232.4" r="17.9" stroke="#1a1a1a" stroke-width="1.9" fill="none" /><circle cx="897.6" cy="1232.4" r="11.8" stroke="#1a1a1a" stroke-width="1.9" fill="none" /><line x1="897.6" y1="1211.4" x2="897.6" y2="1253.4" stroke="#555" stroke-width="0.85" /><circle cx="1032.8" cy="1232.4" r="17.9" stroke="#1a1a1a" stroke-width="1.9" fill="none" /><circle cx="1032.8" cy="1232.4" r="11.8" stroke="#1a1a1a" stroke-width="1.9" fill="none" /><line x1="1032.8" y1="1211.4" x2="1032.8" y2="1253.4" stroke="#555" stroke-width="0.85" /><line x1="870.7" y1="1096.9" x2="1058.7" y2="1096.9" stroke="#666" stroke-width="0.85" /><line x1="870.7" y1="1232.4" x2="1058.7" y2="1232.4" stroke="#666" stroke-width="0.85" /><line x1="870.3" y1="1164.0" x2="1143.7" y2="1164.0" stroke="#444" stroke-width="0.85" /><line x1="965.3" y1="1069.0" x2="965.3" y2="1264.0" stroke="#444" stroke-width="0.85" /><circle cx="931.3" cy="1234.5" r="8.8" stroke="#1a1a1a" stroke-width="1.0" fill="none" /><circle cx="931.3" cy="1234.5" r="5.2" stroke="#1a1a1a" stroke-width="1.0" fill="none" /><line x1="923.3" y1="1234.5" x2="939.3" y2="1234.5" stroke="#1a1a1a" stroke-width="0.85" /><line x1="931.3" y1="1226.0" x2="931.3" y2="1276.0" stroke="#4a4a4a" stroke-width="0.85" /><circle cx="946.3" cy="1220.3" r="6.3" stroke="#444" stroke-width="0.85" fill="none" /><text x="946.3" y="1220.6" font-size="8.5" fill="#444" font-family="Liberation Serif" text-anchor="middle" dominant-baseline="central" >B</text><circle cx="998.5" cy="1234.5" r="8.8" stroke="#1a1a1a" stroke-width="1.0" fill="none" /><circle cx="998.5" cy="1234.5" r="5.2" stroke="#1a1a1a" stroke-width="1.0" fill="none" /><line x1="990.5" y1="1234.5" x2="1006.5" y2="1234.5" stroke="#1a1a1a" stroke-width="0.85" /><line x1="998.5" y1="1226.0" x2="998.5" y2="1276.0" stroke="#4a4a4a" stroke-width="0.85" /><circle cx="985.1" cy="1220.3" r="6.3" stroke="#444" stroke-width="0.85" fill="none" /><text x="985.1" y="1220.6" font-size="8.5" fill="#444" font-family="Liberation Serif" text-anchor="middle" dominant-baseline="central" >A</text><line x1="931.3" y1="1272.5" x2="998.5" y2="1272.5" stroke="#4a4a4a" stroke-width="0.85" /><polygon points="931.3,1272.5 938.3,1270.3 938.3,1274.7" fill="#4a4a4a"/><polygon points="998.5,1272.5 991.5,1274.7 991.5,1270.3" fill="#4a4a4a"/><text x="965.0" y="1265.3" font-size="11.5" fill="#444" font-family="Liberation Serif" text-anchor="middle" dominant-baseline="central" >N1</text><line x1="849.7" y1="1234.5" x2="884.7" y2="1234.5" stroke="#4a4a4a" stroke-width="0.85" /><line x1="855.6" y1="1164.0" x2="855.6" y2="1234.5" stroke="#4a4a4a" stroke-width="0.85" /><polygon points="855.6,1164.0 857.8,1171.0 853.4,1171.0" fill="#4a4a4a"/><polygon points="855.6,1234.5 853.4,1227.5 857.8,1227.5" fill="#4a4a4a"/><text x="849.5" y="1199.0" font-size="11" fill="#444" font-family="Liberation Serif" text-anchor="middle" dominant-baseline="central" transform="rotate(-90 849.5 1199.0)" >N4</text><line x1="897.6" y1="1236.0" x2="897.6" y2="1294.0" stroke="#4a4a4a" stroke-width="0.85" /><line x1="1032.8" y1="1236.0" x2="1032.8" y2="1294.0" stroke="#4a4a4a" stroke-width="0.85" /><line x1="897.6" y1="1290.0" x2="1032.8" y2="1290.0" stroke="#4a4a4a" stroke-width="0.85" /><polygon points="897.6,1290.0 904.6,1287.8 904.6,1292.2" fill="#4a4a4a"/><polygon points="1032.8,1290.0 1025.8,1292.2 1025.8,1287.8" fill="#4a4a4a"/><text x="965.3" y="1283.0" font-size="11.5" fill="#444" font-family="Liberation Serif" text-anchor="middle" dominant-baseline="central" >K</text><line x1="875.0" y1="1240.0" x2="875.0" y2="1312.0" stroke="#4a4a4a" stroke-width="0.85" /><line x1="1055.5" y1="1240.0" x2="1055.5" y2="1312.0" stroke="#4a4a4a" stroke-width="0.85" /><line x1="875.0" y1="1308.0" x2="1055.5" y2="1308.0" stroke="#4a4a4a" stroke-width="0.85" /><polygon points="875.0,1308.0 882.0,1305.8 882.0,1310.2" fill="#4a4a4a"/><polygon points="1055.5,1308.0 1048.5,1310.2 1048.5,1305.8" fill="#4a4a4a"/><text x="965.3" y="1300.0" font-size="11.5" fill="#444" font-family="Liberation Serif" text-anchor="middle" dominant-baseline="central" >J</text><rect x="936.2" y="1135.7" width="70.5" height="57.7" stroke="#1a1a1a" stroke-width="1.9" fill="none"/><rect x="936.2" y="1151.4" width="66.0" height="26.3" stroke="#1a1a1a" stroke-width="1.6" fill="none"/><path d="M941.7,1151.4 Q934.7,1164.5 941.7,1177.7" stroke="#1a1a1a" stroke-width="1.6" fill="none" /><path d="M983.7,1151.4 Q990.7,1164.5 983.7,1177.7" stroke="#1a1a1a" stroke-width="1.6" fill="none" /><path d="M991.7,1151.4 Q998.7,1164.5 991.7,1177.7" stroke="#1a1a1a" stroke-width="1.3" fill="none" /><line x1="952.0" y1="1129.6" x2="952.0" y2="1199.6" stroke="#1a1a1a" stroke-width="0.85" /><line x1="978.1" y1="1129.6" x2="978.1" y2="1199.6" stroke="#1a1a1a" stroke-width="0.85" /><rect x="948.7" y="1129.6" width="33.5" height="6.1" stroke="#1a1a1a" stroke-width="0.85" fill="none"/><rect x="948.7" y="1193.4" width="33.5" height="6.2" stroke="#1a1a1a" stroke-width="0.85" fill="none"/><line x1="951.7" y1="1128.3" x2="978.7" y2="1128.3" stroke="#1a1a1a" stroke-width="3.0" /><line x1="951.7" y1="1200.8" x2="978.7" y2="1200.8" stroke="#1a1a1a" stroke-width="3.0" /><line x1="1006.7" y1="1135.9" x2="1092.1" y2="1135.9" stroke="#1a1a1a" stroke-width="1.9" /><line x1="1006.7" y1="1193.4" x2="1092.1" y2="1193.4" stroke="#1a1a1a" stroke-width="1.9" /><polygon points="1092.1,1135.9 1137.3,1147.5 1137.3,1181.8 1092.1,1193.4" stroke="#1a1a1a" stroke-width="1.9" fill="none" stroke-linejoin="miter"/><rect x="1006.3" y="1119.7" width="53.3" height="89.6" stroke="#1a1a1a" stroke-width="1.9" fill="none"/><line x1="1019.3" y1="1113.7" x2="1019.3" y2="1214.2" stroke="#1a1a1a" stroke-width="0.85" /><line x1="1033.2" y1="1113.7" x2="1033.2" y2="1214.2" stroke="#1a1a1a" stroke-width="0.85" /><line x1="1046.6" y1="1113.7" x2="1046.6" y2="1214.2" stroke="#1a1a1a" stroke-width="0.85" /><line x1="1055.1" y1="1113.7" x2="1055.1" y2="1214.2" stroke="#1a1a1a" stroke-width="0.85" /><rect x="1016.0" y="1113.7" width="33.5" height="6.0" stroke="#1a1a1a" stroke-width="0.85" fill="none"/><rect x="1016.0" y="1209.3" width="33.5" height="4.9" stroke="#1a1a1a" stroke-width="0.85" fill="none"/><line x1="1018.7" y1="1112.3" x2="1046.7" y2="1112.3" stroke="#1a1a1a" stroke-width="3.0" /><line x1="1018.7" y1="1215.5" x2="1046.7" y2="1215.5" stroke="#1a1a1a" stroke-width="3.0" /><line x1="915.7" y1="1151.4" x2="936.2" y2="1151.4" stroke="#4a4a4a" stroke-width="0.85" /><line x1="915.7" y1="1177.7" x2="936.2" y2="1177.7" stroke="#4a4a4a" stroke-width="0.85" /><line x1="920.3" y1="1151.4" x2="920.3" y2="1177.7" stroke="#4a4a4a" stroke-width="0.85" /><polygon points="920.3,1151.4 922.5,1158.4 918.1,1158.4" fill="#4a4a4a"/><polygon points="920.3,1177.7 918.1,1170.7 922.5,1170.7" fill="#4a4a4a"/><text x="912.3" y="1164.5" font-size="11" fill="#444" font-family="Liberation Serif" text-anchor="middle" dominant-baseline="central" transform="rotate(-90 912.3 1164.5)" >C3</text><line x1="1056.7" y1="1096.9" x2="1204.0" y2="1096.9" stroke="#4a4a4a" stroke-width="0.85" /><line x1="1056.7" y1="1232.4" x2="1204.0" y2="1232.4" stroke="#4a4a4a" stroke-width="0.85" /><line x1="1056.7" y1="1074.5" x2="1224.7" y2="1074.5" stroke="#4a4a4a" stroke-width="0.85" /><line x1="1056.7" y1="1254.4" x2="1224.7" y2="1254.4" stroke="#4a4a4a" stroke-width="0.85" /><line x1="1093.7" y1="1135.9" x2="1183.9" y2="1135.9" stroke="#4a4a4a" stroke-width="0.85" /><line x1="1093.7" y1="1193.4" x2="1183.9" y2="1193.4" stroke="#4a4a4a" stroke-width="0.85" /><line x1="1138.7" y1="1147.5" x2="1161.5" y2="1147.5" stroke="#4a4a4a" stroke-width="0.85" /><line x1="1138.7" y1="1181.8" x2="1161.5" y2="1181.8" stroke="#4a4a4a" stroke-width="0.85" /><line x1="1157.4" y1="1147.5" x2="1157.4" y2="1181.8" stroke="#4a4a4a" stroke-width="0.85" /><polygon points="1157.4,1147.5 1159.6,1154.5 1155.2,1154.5" fill="#4a4a4a"/><polygon points="1157.4,1181.8 1155.2,1174.8 1159.6,1174.8" fill="#4a4a4a"/><line x1="1179.4" y1="1135.9" x2="1179.4" y2="1193.4" stroke="#4a4a4a" stroke-width="0.85" /><polygon points="1179.4,1135.9 1181.6,1142.9 1177.2,1142.9" fill="#4a4a4a"/><polygon points="1179.4,1193.4 1177.2,1186.4 1181.6,1186.4" fill="#4a4a4a"/><line x1="1199.5" y1="1096.9" x2="1199.5" y2="1232.4" stroke="#4a4a4a" stroke-width="0.85" /><polygon points="1199.5,1096.9 1201.7,1103.9 1197.3,1103.9" fill="#4a4a4a"/><polygon points="1199.5,1232.4 1197.3,1225.4 1201.7,1225.4" fill="#4a4a4a"/><line x1="1220.4" y1="1074.5" x2="1220.4" y2="1254.4" stroke="#4a4a4a" stroke-width="0.85" /><polygon points="1220.4,1074.5 1222.6,1081.5 1218.2,1081.5" fill="#4a4a4a"/><polygon points="1220.4,1254.4 1218.2,1247.4 1222.6,1247.4" fill="#4a4a4a"/><text x="1150.3" y="1164.5" font-size="11" fill="#444" font-family="Liberation Serif" text-anchor="middle" dominant-baseline="central" transform="rotate(-90 1150.3 1164.5)" >C2</text><text x="1172.7" y="1164.5" font-size="11" fill="#444" font-family="Liberation Serif" text-anchor="middle" dominant-baseline="central" transform="rotate(-90 1172.7 1164.5)" >C1</text><text x="1192.8" y="1164.5" font-size="11" fill="#444" font-family="Liberation Serif" text-anchor="middle" dominant-baseline="central" transform="rotate(-90 1192.8 1164.5)" >K</text><text x="1213.0" y="1164.5" font-size="11" fill="#444" font-family="Liberation Serif" text-anchor="middle" dominant-baseline="central" transform="rotate(-90 1213.0 1164.5)" >J</text><path d="M1121.2,1167.2 Q1128.7,1174 1130.1,1181.8" stroke="#4a4a4a" stroke-width="0.85" fill="none" /><polygon points="1130.1,1181.8 1126.9,1176.3 1131.2,1175.5" fill="#4a4a4a"/><path d="M1131.3,1195.2 Q1131.7,1204 1127.9,1210.9" stroke="#4a4a4a" stroke-width="0.85" fill="none" /><polygon points="1131.3,1195.2 1133.5,1201.2 1129.1,1201.2" fill="#4a4a4a"/><text x="1121.7" y="1206.0" font-size="11" fill="#444" font-family="Liberation Serif" text-anchor="middle" dominant-baseline="central" transform="rotate(-70 1121.7 1206.0)" >15°</text><line x1="1001.8" y1="1116.1" x2="1098.6" y2="1057.6" stroke="#4a4a4a" stroke-width="0.85" /><polygon points="1014.7,1108.3 1009.8,1113.8 1007.6,1110.0" fill="#4a4a4a"/><polygon points="1051.2,1086.2 1056.1,1080.7 1058.3,1084.5" fill="#4a4a4a"/><text x="1079.7" y="1053.0" font-size="11" fill="#444" font-family="Liberation Serif" text-anchor="middle" dominant-baseline="central" transform="rotate(-32 1079.7 1053.0)" >4-ØL</text><polygon points="649.5,730.4 747.5,730.4 758.5,741.4 758.5,839.4 747.5,850.4 649.5,850.4 638.5,839.4 638.5,741.4" stroke="#1a1a1a" stroke-width="1.7" fill="none" stroke-linejoin="miter"/><circle cx="653.5" cy="745.1" r="12.3" stroke="#1a1a1a" stroke-width="1.7" fill="none" /><circle cx="653.5" cy="745.1" r="7.8" stroke="#1a1a1a" stroke-width="1.7" fill="none" /><line x1="639.5" y1="745.1" x2="667.5" y2="745.1" stroke="#444" stroke-width="0.85" /><line x1="653.5" y1="731.1" x2="653.5" y2="759.1" stroke="#444" stroke-width="0.85" /><circle cx="743.5" cy="745.1" r="12.3" stroke="#1a1a1a" stroke-width="1.7" fill="none" /><circle cx="743.5" cy="745.1" r="7.8" stroke="#1a1a1a" stroke-width="1.7" fill="none" /><line x1="729.5" y1="745.1" x2="757.5" y2="745.1" stroke="#444" stroke-width="0.85" /><line x1="743.5" y1="731.1" x2="743.5" y2="759.1" stroke="#444" stroke-width="0.85" /><circle cx="653.5" cy="835.5" r="12.3" stroke="#1a1a1a" stroke-width="1.7" fill="none" /><circle cx="653.5" cy="835.5" r="7.8" stroke="#1a1a1a" stroke-width="1.7" fill="none" /><line x1="639.5" y1="835.5" x2="667.5" y2="835.5" stroke="#444" stroke-width="0.85" /><line x1="653.5" y1="821.5" x2="653.5" y2="849.5" stroke="#444" stroke-width="0.85" /><circle cx="743.5" cy="835.5" r="12.3" stroke="#1a1a1a" stroke-width="1.7" fill="none" /><circle cx="743.5" cy="835.5" r="7.8" stroke="#1a1a1a" stroke-width="1.7" fill="none" /><line x1="729.5" y1="835.5" x2="757.5" y2="835.5" stroke="#444" stroke-width="0.85" /><line x1="743.5" y1="821.5" x2="743.5" y2="849.5" stroke="#444" stroke-width="0.85" /><circle cx="676.0" cy="836.8" r="6.2" stroke="#444" stroke-width="0.85" fill="none" /><circle cx="676.0" cy="836.8" r="4.0" stroke="#444" stroke-width="0.85" fill="none" /><line x1="670.0" y1="836.8" x2="682.0" y2="836.8" stroke="#444" stroke-width="0.85" /><line x1="676.0" y1="830.8" x2="676.0" y2="842.8" stroke="#444" stroke-width="0.85" /><circle cx="721.0" cy="836.8" r="6.2" stroke="#444" stroke-width="0.85" fill="none" /><circle cx="721.0" cy="836.8" r="4.0" stroke="#444" stroke-width="0.85" fill="none" /><line x1="715.0" y1="836.8" x2="727.0" y2="836.8" stroke="#444" stroke-width="0.85" /><line x1="721.0" y1="830.8" x2="721.0" y2="842.8" stroke="#444" stroke-width="0.85" /><g transform="rotate(0 698.5 790.4)"><path d="M679.0,874.4 L679.0,771.1 L718.0,771.1 L718.0,874.4 L710.2,904.7 L686.8,904.7 Z" stroke="#1a1a1a" stroke-width="1.7" fill="#fff"/><line x1="679.0" y1="874.4" x2="718.0" y2="874.4" stroke="#1a1a1a" stroke-width="1.5"/><rect x="674.5" y="779.4" width="4.5" height="21.5" stroke="#1a1a1a" stroke-width="1.3" fill="#333"/><rect x="718.0" y="779.4" width="4.5" height="21.5" stroke="#1a1a1a" stroke-width="1.3" fill="#333"/><line x1="679.0" y1="781.4" x2="718.0" y2="781.4" stroke="#555" stroke-width="0.85"/><line x1="679.0" y1="798.9" x2="718.0" y2="798.9" stroke="#555" stroke-width="0.85"/><rect x="689.8" y="771.1" width="17.4" height="43.5" stroke="#1a1a1a" stroke-width="1.5" fill="#fff"/><path d="M689.8,774.4 Q698.5,769.4 707.2,774.4" stroke="#1a1a1a" stroke-width="1.8" fill="none"/><path d="M689.8,784.4 Q698.5,779.4 707.2,784.4" stroke="#1a1a1a" stroke-width="1.5" fill="none"/><path d="M689.8,796.4 Q698.5,801.4 707.2,796.4" stroke="#1a1a1a" stroke-width="1.5" fill="none"/><path d="M689.8,806.4 Q698.5,811.4 707.2,806.4" stroke="#1a1a1a" stroke-width="1.8" fill="none"/><rect x="668.5" y="817.6" width="60.0" height="35.5" stroke="#1a1a1a" stroke-width="1.6" fill="#fff"/><rect x="664.0" y="823.7" width="4.5" height="22.2" stroke="#1a1a1a" stroke-width="1.3" fill="#333"/><rect x="728.5" y="823.7" width="4.5" height="22.2" stroke="#1a1a1a" stroke-width="1.3" fill="#333"/><line x1="668.5" y1="826.4" x2="728.5" y2="826.4" stroke="#555" stroke-width="0.85"/><line x1="668.5" y1="843.4" x2="728.5" y2="843.4" stroke="#555" stroke-width="0.85"/><line x1="679.0" y1="817.6" x2="679.0" y2="853.1" stroke="#1a1a1a" stroke-width="1.5"/><line x1="718.0" y1="817.6" x2="718.0" y2="853.1" stroke="#1a1a1a" stroke-width="1.5"/></g><circle cx="676.0" cy="836.8" r="6.2" stroke="#444" stroke-width="0.85" fill="none" /><circle cx="676.0" cy="836.8" r="4.0" stroke="#444" stroke-width="0.85" fill="none" /><line x1="670.0" y1="836.8" x2="682.0" y2="836.8" stroke="#444" stroke-width="0.85" /><line x1="676.0" y1="830.8" x2="676.0" y2="842.8" stroke="#444" stroke-width="0.85" /><circle cx="721.0" cy="836.8" r="6.2" stroke="#444" stroke-width="0.85" fill="none" /><circle cx="721.0" cy="836.8" r="4.0" stroke="#444" stroke-width="0.85" fill="none" /><line x1="715.0" y1="836.8" x2="727.0" y2="836.8" stroke="#444" stroke-width="0.85" /><line x1="721.0" y1="830.8" x2="721.0" y2="842.8" stroke="#444" stroke-width="0.85" /><line x1="698.5" y1="726.4" x2="698.5" y2="854.4" stroke="#333" stroke-width="0.85" /><line x1="635.0" y1="790.4" x2="762.0" y2="790.4" stroke="#333" stroke-width="0.85" /><text x="699.0" y="917.0" font-size="12" fill="#444" font-family="Liberation Serif" text-anchor="middle" dominant-baseline="central" >R</text><polygon points="649.7,951.2 747.8,951.2 758.8,962.2 758.8,1060.3 747.8,1071.3 649.7,1071.3 638.7,1060.3 638.7,962.2" stroke="#1a1a1a" stroke-width="1.7" fill="none" stroke-linejoin="miter"/><circle cx="653.7" cy="966.0" r="12.3" stroke="#1a1a1a" stroke-width="1.7" fill="none" /><circle cx="653.7" cy="966.0" r="7.8" stroke="#1a1a1a" stroke-width="1.7" fill="none" /><line x1="639.7" y1="966.0" x2="667.7" y2="966.0" stroke="#444" stroke-width="0.85" /><line x1="653.7" y1="952.0" x2="653.7" y2="980.0" stroke="#444" stroke-width="0.85" /><circle cx="743.7" cy="966.0" r="12.3" stroke="#1a1a1a" stroke-width="1.7" fill="none" /><circle cx="743.7" cy="966.0" r="7.8" stroke="#1a1a1a" stroke-width="1.7" fill="none" /><line x1="729.7" y1="966.0" x2="757.7" y2="966.0" stroke="#444" stroke-width="0.85" /><line x1="743.7" y1="952.0" x2="743.7" y2="980.0" stroke="#444" stroke-width="0.85" /><circle cx="653.7" cy="1056.4" r="12.3" stroke="#1a1a1a" stroke-width="1.7" fill="none" /><circle cx="653.7" cy="1056.4" r="7.8" stroke="#1a1a1a" stroke-width="1.7" fill="none" /><line x1="639.7" y1="1056.4" x2="667.7" y2="1056.4" stroke="#444" stroke-width="0.85" /><line x1="653.7" y1="1042.4" x2="653.7" y2="1070.4" stroke="#444" stroke-width="0.85" /><circle cx="743.7" cy="1056.4" r="12.3" stroke="#1a1a1a" stroke-width="1.7" fill="none" /><circle cx="743.7" cy="1056.4" r="7.8" stroke="#1a1a1a" stroke-width="1.7" fill="none" /><line x1="729.7" y1="1056.4" x2="757.7" y2="1056.4" stroke="#444" stroke-width="0.85" /><line x1="743.7" y1="1042.4" x2="743.7" y2="1070.4" stroke="#444" stroke-width="0.85" /><circle cx="676.2" cy="1057.7" r="6.2" stroke="#444" stroke-width="0.85" fill="none" /><circle cx="676.2" cy="1057.7" r="4.0" stroke="#444" stroke-width="0.85" fill="none" /><line x1="670.2" y1="1057.7" x2="682.2" y2="1057.7" stroke="#444" stroke-width="0.85" /><line x1="676.2" y1="1051.7" x2="676.2" y2="1063.7" stroke="#444" stroke-width="0.85" /><circle cx="721.2" cy="1057.7" r="6.2" stroke="#444" stroke-width="0.85" fill="none" /><circle cx="721.2" cy="1057.7" r="4.0" stroke="#444" stroke-width="0.85" fill="none" /><line x1="715.2" y1="1057.7" x2="727.2" y2="1057.7" stroke="#444" stroke-width="0.85" /><line x1="721.2" y1="1051.7" x2="721.2" y2="1063.7" stroke="#444" stroke-width="0.85" /><g transform="rotate(90 698.7 1011.3)"><path d="M679.2,1095.3 L679.2,992.0 L718.2,992.0 L718.2,1095.3 L710.4,1125.6 L687.0,1125.6 Z" stroke="#1a1a1a" stroke-width="1.7" fill="#fff"/><line x1="679.2" y1="1095.3" x2="718.2" y2="1095.3" stroke="#1a1a1a" stroke-width="1.5"/><rect x="674.7" y="1000.3" width="4.5" height="21.5" stroke="#1a1a1a" stroke-width="1.3" fill="#333"/><rect x="718.2" y="1000.3" width="4.5" height="21.5" stroke="#1a1a1a" stroke-width="1.3" fill="#333"/><line x1="679.2" y1="1002.3" x2="718.2" y2="1002.3" stroke="#555" stroke-width="0.85"/><line x1="679.2" y1="1019.8" x2="718.2" y2="1019.8" stroke="#555" stroke-width="0.85"/><rect x="690.0" y="992.0" width="17.4" height="43.5" stroke="#1a1a1a" stroke-width="1.5" fill="#fff"/><path d="M690.0,995.3 Q698.7,990.3 707.4,995.3" stroke="#1a1a1a" stroke-width="1.8" fill="none"/><path d="M690.0,1005.3 Q698.7,1000.3 707.4,1005.3" stroke="#1a1a1a" stroke-width="1.5" fill="none"/><path d="M690.0,1017.3 Q698.7,1022.3 707.4,1017.3" stroke="#1a1a1a" stroke-width="1.5" fill="none"/><path d="M690.0,1027.3 Q698.7,1032.3 707.4,1027.3" stroke="#1a1a1a" stroke-width="1.8" fill="none"/><rect x="668.7" y="1038.5" width="60.0" height="35.5" stroke="#1a1a1a" stroke-width="1.6" fill="#fff"/><rect x="664.2" y="1044.6" width="4.5" height="22.2" stroke="#1a1a1a" stroke-width="1.3" fill="#333"/><rect x="728.7" y="1044.6" width="4.5" height="22.2" stroke="#1a1a1a" stroke-width="1.3" fill="#333"/><line x1="668.7" y1="1047.3" x2="728.7" y2="1047.3" stroke="#555" stroke-width="0.85"/><line x1="668.7" y1="1064.3" x2="728.7" y2="1064.3" stroke="#555" stroke-width="0.85"/><line x1="679.2" y1="1038.5" x2="679.2" y2="1074.0" stroke="#1a1a1a" stroke-width="1.5"/><line x1="718.2" y1="1038.5" x2="718.2" y2="1074.0" stroke="#1a1a1a" stroke-width="1.5"/></g><line x1="698.7" y1="947.3" x2="698.7" y2="1075.3" stroke="#333" stroke-width="0.85" /><line x1="635.2" y1="1011.3" x2="762.2" y2="1011.3" stroke="#333" stroke-width="0.85" /><text x="569.0" y="1011.0" font-size="12" fill="#444" font-family="Liberation Serif" text-anchor="middle" dominant-baseline="central" >H</text><polygon points="649.7,1172.5 747.8,1172.5 758.8,1183.5 758.8,1281.6 747.8,1292.6 649.7,1292.6 638.7,1281.6 638.7,1183.5" stroke="#1a1a1a" stroke-width="1.7" fill="none" stroke-linejoin="miter"/><circle cx="653.7" cy="1187.3" r="12.3" stroke="#1a1a1a" stroke-width="1.7" fill="none" /><circle cx="653.7" cy="1187.3" r="7.8" stroke="#1a1a1a" stroke-width="1.7" fill="none" /><line x1="639.7" y1="1187.3" x2="667.7" y2="1187.3" stroke="#444" stroke-width="0.85" /><line x1="653.7" y1="1173.3" x2="653.7" y2="1201.3" stroke="#444" stroke-width="0.85" /><circle cx="743.7" cy="1187.3" r="12.3" stroke="#1a1a1a" stroke-width="1.7" fill="none" /><circle cx="743.7" cy="1187.3" r="7.8" stroke="#1a1a1a" stroke-width="1.7" fill="none" /><line x1="729.7" y1="1187.3" x2="757.7" y2="1187.3" stroke="#444" stroke-width="0.85" /><line x1="743.7" y1="1173.3" x2="743.7" y2="1201.3" stroke="#444" stroke-width="0.85" /><circle cx="653.7" cy="1277.7" r="12.3" stroke="#1a1a1a" stroke-width="1.7" fill="none" /><circle cx="653.7" cy="1277.7" r="7.8" stroke="#1a1a1a" stroke-width="1.7" fill="none" /><line x1="639.7" y1="1277.7" x2="667.7" y2="1277.7" stroke="#444" stroke-width="0.85" /><line x1="653.7" y1="1263.7" x2="653.7" y2="1291.7" stroke="#444" stroke-width="0.85" /><circle cx="743.7" cy="1277.7" r="12.3" stroke="#1a1a1a" stroke-width="1.7" fill="none" /><circle cx="743.7" cy="1277.7" r="7.8" stroke="#1a1a1a" stroke-width="1.7" fill="none" /><line x1="729.7" y1="1277.7" x2="757.7" y2="1277.7" stroke="#444" stroke-width="0.85" /><line x1="743.7" y1="1263.7" x2="743.7" y2="1291.7" stroke="#444" stroke-width="0.85" /><circle cx="676.2" cy="1279.0" r="6.2" stroke="#444" stroke-width="0.85" fill="none" /><circle cx="676.2" cy="1279.0" r="4.0" stroke="#444" stroke-width="0.85" fill="none" /><line x1="670.2" y1="1279.0" x2="682.2" y2="1279.0" stroke="#444" stroke-width="0.85" /><line x1="676.2" y1="1273.0" x2="676.2" y2="1285.0" stroke="#444" stroke-width="0.85" /><circle cx="721.2" cy="1279.0" r="6.2" stroke="#444" stroke-width="0.85" fill="none" /><circle cx="721.2" cy="1279.0" r="4.0" stroke="#444" stroke-width="0.85" fill="none" /><line x1="715.2" y1="1279.0" x2="727.2" y2="1279.0" stroke="#444" stroke-width="0.85" /><line x1="721.2" y1="1273.0" x2="721.2" y2="1285.0" stroke="#444" stroke-width="0.85" /><g transform="rotate(180 698.7 1232.6)"><path d="M679.2,1316.6 L679.2,1213.3 L718.2,1213.3 L718.2,1316.6 L710.4,1346.9 L687.0,1346.9 Z" stroke="#1a1a1a" stroke-width="1.7" fill="#fff"/><line x1="679.2" y1="1316.6" x2="718.2" y2="1316.6" stroke="#1a1a1a" stroke-width="1.5"/><rect x="674.7" y="1221.6" width="4.5" height="21.5" stroke="#1a1a1a" stroke-width="1.3" fill="#333"/><rect x="718.2" y="1221.6" width="4.5" height="21.5" stroke="#1a1a1a" stroke-width="1.3" fill="#333"/><line x1="679.2" y1="1223.6" x2="718.2" y2="1223.6" stroke="#555" stroke-width="0.85"/><line x1="679.2" y1="1241.1" x2="718.2" y2="1241.1" stroke="#555" stroke-width="0.85"/><rect x="690.0" y="1213.3" width="17.4" height="43.5" stroke="#1a1a1a" stroke-width="1.5" fill="#fff"/><path d="M690.0,1216.6 Q698.7,1211.6 707.4,1216.6" stroke="#1a1a1a" stroke-width="1.8" fill="none"/><path d="M690.0,1226.6 Q698.7,1221.6 707.4,1226.6" stroke="#1a1a1a" stroke-width="1.5" fill="none"/><path d="M690.0,1238.6 Q698.7,1243.6 707.4,1238.6" stroke="#1a1a1a" stroke-width="1.5" fill="none"/><path d="M690.0,1248.6 Q698.7,1253.6 707.4,1248.6" stroke="#1a1a1a" stroke-width="1.8" fill="none"/><rect x="668.7" y="1259.8" width="60.0" height="35.5" stroke="#1a1a1a" stroke-width="1.6" fill="#fff"/><rect x="664.2" y="1265.9" width="4.5" height="22.2" stroke="#1a1a1a" stroke-width="1.3" fill="#333"/><rect x="728.7" y="1265.9" width="4.5" height="22.2" stroke="#1a1a1a" stroke-width="1.3" fill="#333"/><line x1="668.7" y1="1268.6" x2="728.7" y2="1268.6" stroke="#555" stroke-width="0.85"/><line x1="668.7" y1="1285.6" x2="728.7" y2="1285.6" stroke="#555" stroke-width="0.85"/><line x1="679.2" y1="1259.8" x2="679.2" y2="1295.3" stroke="#1a1a1a" stroke-width="1.5"/><line x1="718.2" y1="1259.8" x2="718.2" y2="1295.3" stroke="#1a1a1a" stroke-width="1.5"/></g><line x1="698.7" y1="1168.6" x2="698.7" y2="1296.6" stroke="#333" stroke-width="0.85" /><line x1="635.2" y1="1232.6" x2="762.2" y2="1232.6" stroke="#333" stroke-width="0.85" /><text x="699.0" y="1106.8" font-size="12" fill="#444" font-family="Liberation Serif" text-anchor="middle" dominant-baseline="central" >L</text></svg><svg class="r" style="left:280px;top:3200px" width="1020" height="125" viewBox="280 3200 1020 125" ><polygon points="349.1,3254.5 355.1,3251.0 401.0,3251.0 401.0,3253.0 383.7,3254.5" fill="#262626"/><polygon points="349.1,3254.5 383.7,3254.5 383.7,3313.3 349.1,3312.3" fill="#2b2b2b"/><polygon points="383.7,3254.5 401.0,3253.0 401.0,3311.6 383.7,3313.3" fill="#1c1e1e"/><rect x="383.7" y="3254.5" width="1.6" height="58.8" fill="#4a4d52"/><circle cx="371.1" cy="3272.2" r="3.9" fill="#e3261f"/><circle cx="371.40000000000003" cy="3272.3999999999996" r="1.7" fill="#5a0c0a"/><circle cx="357.7" cy="3298.2" r="3.9" fill="#e3261f"/><circle cx="358.0" cy="3298.3999999999996" r="1.7" fill="#5a0c0a"/><circle cx="364.5" cy="3307.5" r="1" fill="#000"/><polygon points="352.0,3249.0 379.5,3249.0 380.5,3255.0 351.5,3255.0" fill="#5d5244"/><rect x="369.5" y="3248.0" width="9.0" height="8.0" fill="#a9abae"/><rect x="372.5" y="3248.0" width="2.5" height="8.0" fill="#e0e0e0"/><polygon points="350.1,3213.4 354.0,3210.3 360.7,3210.3 369.1,3215.6 373.6,3221.8 376.9,3226.3 377.5,3231.3 385.9,3243.6 384.2,3247.0 381.4,3247.5 379.2,3251.0 365.5,3252.0 351.8,3249.8 352.9,3241.4 356.8,3231.3 357.3,3229.0 351.2,3218.4" fill="#1c1c1c"/><polygon points="362.0,3215.5 369.1,3215.6 373.6,3221.8 376.9,3226.3 377.5,3231.3 385.9,3243.6 384.2,3247.0 381.4,3247.5 372.5,3232.0 366.5,3223.0" fill="#3b3b3b"/><polygon points="350.1,3213.4 354.0,3210.3 360.7,3210.3 369.1,3215.6 362.0,3215.5 355.5,3218.0" fill="#2a2a2a"/><circle cx="361.8" cy="3231.3" r="2.8" fill="#8a8a8a"/><circle cx="355.7" cy="3246.1" r="2.8" fill="#8a8a8a"/><circle cx="371.6" cy="3244.2" r="2.8" fill="#8a8a8a"/><polygon points="510.1,3261.0 516.1,3255.4 562.8,3255.4 562.8,3257.4 543.7,3261.0" fill="#262626"/><polygon points="510.1,3261.0 543.7,3261.0 543.7,3314.7 510.1,3313.7" fill="#2b2b2b"/><polygon points="543.7,3261.0 562.8,3257.4 562.8,3310.2 543.7,3314.7" fill="#1c1e1e"/><rect x="543.7" y="3261.0" width="1.6" height="53.7" fill="#4a4d52"/><polygon points="514.5,3252.0 542.0,3252.0 543.0,3258.0 514.0,3258.0" fill="#5d5244"/><rect x="532.0" y="3251.0" width="9.0" height="8.0" fill="#a9abae"/><rect x="535.0" y="3251.0" width="2.5" height="8.0" fill="#e0e0e0"/><polygon points="512.6,3216.4 516.5,3213.3 523.2,3213.3 531.6,3218.6 536.1,3224.8 539.4,3229.3 540.0,3234.3 548.4,3246.6 546.7,3250.0 543.9,3250.5 541.7,3254.0 528.0,3255.0 514.3,3252.8 515.4,3244.4 519.3,3234.3 519.8,3232.0 513.7,3221.4" fill="#1c1c1c"/><polygon points="524.5,3218.5 531.6,3218.6 536.1,3224.8 539.4,3229.3 540.0,3234.3 548.4,3246.6 546.7,3250.0 543.9,3250.5 535.0,3235.0 529.0,3226.0" fill="#3b3b3b"/><polygon points="512.6,3216.4 516.5,3213.3 523.2,3213.3 531.6,3218.6 524.5,3218.5 518.0,3221.0" fill="#2a2a2a"/><circle cx="524.3" cy="3234.3" r="2.8" fill="#8a8a8a"/><circle cx="518.2" cy="3249.1" r="2.8" fill="#8a8a8a"/><circle cx="534.1" cy="3247.2" r="2.8" fill="#8a8a8a"/><polygon points="679.8,3261.0 685.8,3256.2 730.2,3256.2 730.2,3258.2 711.5,3261.0" fill="#262626"/><polygon points="679.8,3261.0 711.5,3261.0 711.5,3314.2 679.8,3313.2" fill="#2b2b2b"/><polygon points="711.5,3261.0 730.2,3258.2 730.2,3310.2 711.5,3314.2" fill="#1c1e1e"/><rect x="711.5" y="3261.0" width="1.6" height="53.2" fill="#4a4d52"/><circle cx="727.2" cy="3302.2" r="1.8" fill="#080808"/><polygon points="684.5,3252.0 712.0,3252.0 713.0,3258.0 684.0,3258.0" fill="#5d5244"/><rect x="702.0" y="3251.0" width="9.0" height="8.0" fill="#a9abae"/><rect x="705.0" y="3251.0" width="2.5" height="8.0" fill="#e0e0e0"/><polygon points="682.6,3216.4 686.5,3213.3 693.2,3213.3 701.6,3218.6 706.1,3224.8 709.4,3229.3 710.0,3234.3 718.4,3246.6 716.7,3250.0 713.9,3250.5 711.7,3254.0 698.0,3255.0 684.3,3252.8 685.4,3244.4 689.3,3234.3 689.8,3232.0 683.7,3221.4" fill="#1c1c1c"/><polygon points="694.5,3218.5 701.6,3218.6 706.1,3224.8 709.4,3229.3 710.0,3234.3 718.4,3246.6 716.7,3250.0 713.9,3250.5 705.0,3235.0 699.0,3226.0" fill="#3b3b3b"/><polygon points="682.6,3216.4 686.5,3213.3 693.2,3213.3 701.6,3218.6 694.5,3218.5 688.0,3221.0" fill="#2a2a2a"/><circle cx="694.3" cy="3234.3" r="2.8" fill="#8a8a8a"/><circle cx="688.2" cy="3249.1" r="2.8" fill="#8a8a8a"/><circle cx="704.1" cy="3247.2" r="2.8" fill="#8a8a8a"/><rect x="859.1" y="3271.6" width="29.9" height="40.2" rx="2" fill="#383838"/><rect x="874.6" y="3272.6" width="3.6" height="39.2" fill="#5c5e62"/><ellipse cx="874.0" cy="3310.8" rx="14.9" ry="2.2" fill="#383838"/><rect x="851.7" y="3255.8" width="45.2" height="16.8" rx="1" fill="#444444"/><rect x="876.6" y="3257.8" width="20.3" height="14.8" rx="1" fill="#333333"/><polygon points="851.7,3256.8 855.7,3252.8 894.9,3252.8 896.9,3256.8" fill="#3a3a3a"/><polygon points="855.0,3253.5 882.5,3253.5 883.5,3259.5 854.5,3259.5" fill="#5d5244"/><rect x="872.5" y="3252.5" width="9.0" height="8.0" fill="#a9abae"/><rect x="875.5" y="3252.5" width="2.5" height="8.0" fill="#e0e0e0"/><polygon points="853.1,3217.9 857.0,3214.8 863.7,3214.8 872.1,3220.1 876.6,3226.3 879.9,3230.8 880.5,3235.8 888.9,3248.1 887.2,3251.5 884.4,3252.0 882.2,3255.5 868.5,3256.5 854.8,3254.3 855.9,3245.9 859.8,3235.8 860.3,3233.5 854.2,3222.9" fill="#1c1c1c"/><polygon points="865.0,3220.0 872.1,3220.1 876.6,3226.3 879.9,3230.8 880.5,3235.8 888.9,3248.1 887.2,3251.5 884.4,3252.0 875.5,3236.5 869.5,3227.5" fill="#3b3b3b"/><polygon points="853.1,3217.9 857.0,3214.8 863.7,3214.8 872.1,3220.1 865.0,3220.0 858.5,3222.5" fill="#2a2a2a"/><circle cx="864.8" cy="3235.8" r="2.8" fill="#8a8a8a"/><circle cx="858.7" cy="3250.6" r="2.8" fill="#8a8a8a"/><circle cx="874.6" cy="3248.7" r="2.8" fill="#8a8a8a"/><rect x="1038.0" y="3274.5" width="30.3" height="38.0" rx="2" fill="#232323"/><rect x="1053.8" y="3275.5" width="3.6" height="37.0" fill="#3d3f44"/><ellipse cx="1053.2" cy="3311.5" rx="15.1" ry="2.2" fill="#232323"/><rect x="1029.1" y="3255.4" width="48.1" height="20.1" rx="6" fill="#2a2a2a"/><rect x="1055.6" y="3257.4" width="21.6" height="18.1" rx="6" fill="#1f1f1f"/><polygon points="1029.1,3256.4 1033.1,3252.4 1075.2,3252.4 1077.2,3256.4" fill="#262626"/><polygon points="1032.0,3252.5 1059.5,3252.5 1060.5,3258.5 1031.5,3258.5" fill="#5d5244"/><rect x="1049.5" y="3251.5" width="9.0" height="8.0" fill="#a9abae"/><rect x="1052.5" y="3251.5" width="2.5" height="8.0" fill="#e0e0e0"/><polygon points="1030.1,3216.9 1034.0,3213.8 1040.7,3213.8 1049.1,3219.1 1053.6,3225.3 1056.9,3229.8 1057.5,3234.8 1065.9,3247.1 1064.2,3250.5 1061.4,3251.0 1059.2,3254.5 1045.5,3255.5 1031.8,3253.3 1032.9,3244.9 1036.8,3234.8 1037.3,3232.5 1031.2,3221.9" fill="#1c1c1c"/><polygon points="1042.0,3219.0 1049.1,3219.1 1053.6,3225.3 1056.9,3229.8 1057.5,3234.8 1065.9,3247.1 1064.2,3250.5 1061.4,3251.0 1052.5,3235.5 1046.5,3226.5" fill="#3b3b3b"/><polygon points="1030.1,3216.9 1034.0,3213.8 1040.7,3213.8 1049.1,3219.1 1042.0,3219.0 1035.5,3221.5" fill="#2a2a2a"/><circle cx="1041.8" cy="3234.8" r="2.8" fill="#8a8a8a"/><circle cx="1035.7" cy="3249.6" r="2.8" fill="#8a8a8a"/><circle cx="1051.6" cy="3247.7" r="2.8" fill="#8a8a8a"/><rect x="1195.9" y="3274.5" width="31.3" height="35.7" rx="2" fill="#232323"/><rect x="1212.2" y="3275.5" width="3.8" height="34.7" fill="#3d3f44"/><ellipse cx="1211.6" cy="3309.2" rx="15.6" ry="2.2" fill="#232323"/><rect x="1188.0" y="3257.6" width="48.2" height="17.9" rx="6" fill="#2a2a2a"/><rect x="1214.5" y="3259.6" width="21.7" height="15.9" rx="6" fill="#1f1f1f"/><polygon points="1188.0,3258.6 1192.0,3254.6 1234.2,3254.6 1236.2,3258.6" fill="#262626"/><polygon points="1191.0,3253.5 1218.5,3253.5 1219.5,3259.5 1190.5,3259.5" fill="#5d5244"/><rect x="1208.5" y="3252.5" width="9.0" height="8.0" fill="#a9abae"/><rect x="1211.5" y="3252.5" width="2.5" height="8.0" fill="#e0e0e0"/><polygon points="1189.1,3217.9 1193.0,3214.8 1199.7,3214.8 1208.1,3220.1 1212.6,3226.3 1215.9,3230.8 1216.5,3235.8 1224.9,3248.1 1223.2,3251.5 1220.4,3252.0 1218.2,3255.5 1204.5,3256.5 1190.8,3254.3 1191.9,3245.9 1195.8,3235.8 1196.3,3233.5 1190.2,3222.9" fill="#1c1c1c"/><polygon points="1201.0,3220.0 1208.1,3220.1 1212.6,3226.3 1215.9,3230.8 1216.5,3235.8 1224.9,3248.1 1223.2,3251.5 1220.4,3252.0 1211.5,3236.5 1205.5,3227.5" fill="#3b3b3b"/><polygon points="1189.1,3217.9 1193.0,3214.8 1199.7,3214.8 1208.1,3220.1 1201.0,3220.0 1194.5,3222.5" fill="#2a2a2a"/><circle cx="1200.8" cy="3235.8" r="2.8" fill="#8a8a8a"/><circle cx="1194.7" cy="3250.6" r="2.8" fill="#8a8a8a"/><circle cx="1210.6" cy="3248.7" r="2.8" fill="#8a8a8a"/></svg><svg class="r" style="left:1140px;top:2840px" width="200" height="300" viewBox="1140 2840 200 300" ><polygon points="1207.3,2852.6 1310.4,2852.6 1310.4,2965.5 1300.9,2972.7 1216.8,2972.7 1207.3,2963.9" stroke="#222" stroke-width="2.0" fill="none" stroke-linejoin="miter"/><circle cx="1219.7" cy="2864.8" r="8.8" stroke="#222" stroke-width="2.2" fill="none" /><circle cx="1219.7" cy="2864.8" r="5.5" stroke="#222" stroke-width="1.0" fill="none" /><line x1="1214.2" y1="2864.8" x2="1225.2" y2="2864.8" stroke="#222" stroke-width="1.0" /><line x1="1219.7" y1="2859.3" x2="1219.7" y2="2870.3" stroke="#222" stroke-width="1.0" /><circle cx="1298.5" cy="2864.8" r="8.8" stroke="#222" stroke-width="2.2" fill="none" /><circle cx="1298.5" cy="2864.8" r="5.5" stroke="#222" stroke-width="1.0" fill="none" /><line x1="1293.0" y1="2864.8" x2="1304.0" y2="2864.8" stroke="#222" stroke-width="1.0" /><line x1="1298.5" y1="2859.3" x2="1298.5" y2="2870.3" stroke="#222" stroke-width="1.0" /><circle cx="1229.2" cy="2949.7" r="8.8" stroke="#222" stroke-width="2.2" fill="none" /><circle cx="1229.2" cy="2949.7" r="5.5" stroke="#222" stroke-width="1.0" fill="none" /><line x1="1223.7" y1="2949.7" x2="1234.7" y2="2949.7" stroke="#222" stroke-width="1.0" /><line x1="1229.2" y1="2944.2" x2="1229.2" y2="2955.2" stroke="#222" stroke-width="1.0" /><circle cx="1295.8" cy="2949.7" r="8.8" stroke="#222" stroke-width="2.2" fill="none" /><circle cx="1295.8" cy="2949.7" r="5.5" stroke="#222" stroke-width="1.0" fill="none" /><line x1="1290.3" y1="2949.7" x2="1301.3" y2="2949.7" stroke="#222" stroke-width="1.0" /><line x1="1295.8" y1="2944.2" x2="1295.8" y2="2955.2" stroke="#222" stroke-width="1.0" /><path d="M1221.5,2874.5 Q1230,2884 1238,2875" stroke="#222" stroke-width="1.6" fill="none" /><path d="M1300,2874.5 Q1308,2884 1316,2875 M1309,2881 L1313,2872" stroke="#222" stroke-width="1.6" fill="none" /><line x1="1258.9" y1="2855.0" x2="1258.9" y2="2868.0" stroke="#222" stroke-width="1.4" /><line x1="1258.9" y1="2881.0" x2="1258.9" y2="2897.0" stroke="#222" stroke-width="1.4" /><line x1="1258.9" y1="2945.0" x2="1258.9" y2="2976.0" stroke="#222" stroke-width="1.4" /><line x1="1296.0" y1="2910.3" x2="1325.0" y2="2910.3" stroke="#222" stroke-width="1.4" /><circle cx="1272.0" cy="2910.3" r="18.6" stroke="#222" stroke-width="2.0" fill="#fff" /><path d="M1260,2895 A18,18 0 0 1 1284,2895" stroke="#222" stroke-width="3.0" fill="none" /><path d="M1260,2925.5 A18,18 0 0 0 1284,2925.5" stroke="#222" stroke-width="3.0" fill="none" /><rect x="1218.4" y="2887.0" width="24.6" height="47.0" stroke="#222" stroke-width="1.8" fill="#fff"/><line x1="1221.0" y1="2884.5" x2="1240.5" y2="2884.5" stroke="#222" stroke-width="3.2" /><line x1="1221.0" y1="2936.5" x2="1240.5" y2="2936.5" stroke="#222" stroke-width="3.2" /><rect x="1164.2" y="2894.5" width="93.8" height="32.6" stroke="#222" stroke-width="2.0" fill="none"/><line x1="1194.6" y1="2894.5" x2="1194.6" y2="2927.1" stroke="#222" stroke-width="2.0" /><line x1="1164.2" y1="2910.3" x2="1258.0" y2="2910.3" stroke="#222" stroke-width="1.2" /><circle cx="1180.4" cy="2910.3" r="5.8" stroke="#222" stroke-width="1.6" fill="none" /><line x1="1180.4" y1="2903.0" x2="1180.4" y2="2917.5" stroke="#222" stroke-width="1.2" /><line x1="1224.0" y1="2898.0" x2="1224.0" y2="2924.0" stroke="#444" stroke-width="1.2" stroke-dasharray="5 3"/><line x1="1228.0" y1="2898.0" x2="1228.0" y2="2924.0" stroke="#444" stroke-width="1.2" stroke-dasharray="5 3"/><line x1="1237.0" y1="2898.0" x2="1237.0" y2="2924.0" stroke="#444" stroke-width="1.2" stroke-dasharray="5 3"/><line x1="1262.0" y1="2898.0" x2="1262.0" y2="2924.0" stroke="#444" stroke-width="1.2" stroke-dasharray="5 3"/><line x1="1276.0" y1="2898.0" x2="1276.0" y2="2924.0" stroke="#444" stroke-width="1.2" stroke-dasharray="5 3"/><line x1="1258.0" y1="2899.0" x2="1258.0" y2="2922.0" stroke="#222" stroke-width="1.6" /><polygon points="1248.6,2930.0 1253.2,2934.6 1248.6,2939.2 1244.0,2934.6" fill="#222"/><polygon points="1277.1,2937.1 1281.7,2941.7 1277.1,2946.3 1272.5,2941.7" fill="#222"/><polyline points="1231.0,2972.7 1231.0,2960.8 1239.8,2960.8 1239.8,2972.7" stroke="#222" stroke-width="1.6" fill="none" stroke-linejoin="miter"/><line x1="1233.0" y1="2963.3" x2="1238.8" y2="2963.3" stroke="#777" stroke-width="2.0" /><line x1="1238.2" y1="2956.8" x2="1238.2" y2="2976.7" stroke="#222" stroke-width="1.5" /><line x1="1244.0" y1="2962.8" x2="1244.0" y2="2972.7" stroke="#222" stroke-width="1.5" /><line x1="1246.5" y1="2963.8" x2="1246.5" y2="2970.7" stroke="#222" stroke-width="1.0" /><polyline points="1271.6,2972.7 1271.6,2960.8 1280.3,2960.8 1280.3,2972.7" stroke="#222" stroke-width="1.6" fill="none" stroke-linejoin="miter"/><line x1="1273.6" y1="2963.3" x2="1279.3" y2="2963.3" stroke="#777" stroke-width="2.0" /><line x1="1278.7" y1="2956.8" x2="1278.7" y2="2976.7" stroke="#222" stroke-width="1.5" /><line x1="1284.4" y1="2962.8" x2="1284.4" y2="2972.7" stroke="#222" stroke-width="1.5" /><line x1="1286.9" y1="2963.8" x2="1286.9" y2="2970.7" stroke="#222" stroke-width="1.0" /><line x1="1238.5" y1="2955.0" x2="1238.5" y2="2977.0" stroke="#222" stroke-width="1.4" /><line x1="1279.0" y1="2955.0" x2="1279.0" y2="2977.0" stroke="#222" stroke-width="1.4" /><text x="1165.7" y="2867.4" font-size="27" fill="#222" font-family="Liberation Serif" text-anchor="middle" dominant-baseline="central" transform="translate(1165.7 2867.4) scale(0.75 1) translate(-1165.7 -2867.4)">L</text><polygon points="1159.0,3007.2 1262.3,3007.2 1262.3,3117.6 1251.7,3125.6 1169.2,3125.6 1159.0,3117.6" stroke="#222" stroke-width="2.0" fill="none" stroke-linejoin="miter"/><circle cx="1171.5" cy="3019.2" r="8.8" stroke="#222" stroke-width="2.2" fill="none" /><circle cx="1171.5" cy="3019.2" r="5.5" stroke="#222" stroke-width="1.0" fill="none" /><line x1="1166.0" y1="3019.2" x2="1177.0" y2="3019.2" stroke="#222" stroke-width="1.0" /><line x1="1171.5" y1="3013.7" x2="1171.5" y2="3024.7" stroke="#222" stroke-width="1.0" /><circle cx="1249.5" cy="3019.2" r="8.8" stroke="#222" stroke-width="2.2" fill="none" /><circle cx="1249.5" cy="3019.2" r="5.5" stroke="#222" stroke-width="1.0" fill="none" /><line x1="1244.0" y1="3019.2" x2="1255.0" y2="3019.2" stroke="#222" stroke-width="1.0" /><line x1="1249.5" y1="3013.7" x2="1249.5" y2="3024.7" stroke="#222" stroke-width="1.0" /><circle cx="1171.5" cy="3098.0" r="8.8" stroke="#222" stroke-width="2.2" fill="none" /><circle cx="1171.5" cy="3098.0" r="5.5" stroke="#222" stroke-width="1.0" fill="none" /><line x1="1166.0" y1="3098.0" x2="1177.0" y2="3098.0" stroke="#222" stroke-width="1.0" /><line x1="1171.5" y1="3092.5" x2="1171.5" y2="3103.5" stroke="#222" stroke-width="1.0" /><circle cx="1249.5" cy="3098.0" r="8.8" stroke="#222" stroke-width="2.2" fill="none" /><circle cx="1249.5" cy="3098.0" r="5.5" stroke="#222" stroke-width="1.0" fill="none" /><line x1="1244.0" y1="3098.0" x2="1255.0" y2="3098.0" stroke="#222" stroke-width="1.0" /><line x1="1249.5" y1="3092.5" x2="1249.5" y2="3103.5" stroke="#222" stroke-width="1.0" /><line x1="1210.4" y1="3003.3" x2="1210.4" y2="3032.0" stroke="#222" stroke-width="1.4" /><line x1="1210.4" y1="3085.0" x2="1210.4" y2="3100.0" stroke="#222" stroke-width="1.4" /><line x1="1210.4" y1="3112.0" x2="1210.4" y2="3122.0" stroke="#222" stroke-width="1.4" /><line x1="1148.9" y1="3058.8" x2="1179.0" y2="3058.8" stroke="#222" stroke-width="1.4" /><circle cx="1207.4" cy="3058.8" r="20.5" stroke="#222" stroke-width="2.0" fill="#fff" /><path d="M1195,3041.5 A20,20 0 0 1 1220,3041.5" stroke="#222" stroke-width="3.0" fill="none" /><path d="M1195,3076 A20,20 0 0 0 1220,3076" stroke="#222" stroke-width="3.0" fill="none" /><rect x="1235.7" y="3036.5" width="24.8" height="44.5" stroke="#222" stroke-width="1.8" fill="#fff"/><line x1="1238.0" y1="3034.0" x2="1258.0" y2="3034.0" stroke="#222" stroke-width="3.2" /><line x1="1238.0" y1="3083.5" x2="1258.0" y2="3083.5" stroke="#222" stroke-width="3.2" /><rect x="1196.7" y="3042.6" width="117.9" height="32.1" stroke="#222" stroke-width="2.0" fill="none"/><line x1="1283.6" y1="3042.6" x2="1283.6" y2="3074.7" stroke="#222" stroke-width="2.0" /><line x1="1196.7" y1="3058.8" x2="1314.6" y2="3058.8" stroke="#222" stroke-width="1.2" /><circle cx="1298.6" cy="3058.5" r="5.8" stroke="#222" stroke-width="1.6" fill="none" /><line x1="1298.6" y1="3051.0" x2="1298.6" y2="3066.0" stroke="#222" stroke-width="1.2" /><line x1="1194.0" y1="3046.0" x2="1194.0" y2="3071.0" stroke="#444" stroke-width="1.2" stroke-dasharray="5 3"/><line x1="1203.0" y1="3046.0" x2="1203.0" y2="3071.0" stroke="#444" stroke-width="1.2" stroke-dasharray="5 3"/><line x1="1217.0" y1="3046.0" x2="1217.0" y2="3071.0" stroke="#444" stroke-width="1.2" stroke-dasharray="5 3"/><line x1="1242.0" y1="3046.0" x2="1242.0" y2="3071.0" stroke="#444" stroke-width="1.2" stroke-dasharray="5 3"/><line x1="1252.0" y1="3046.0" x2="1252.0" y2="3071.0" stroke="#444" stroke-width="1.2" stroke-dasharray="5 3"/><polygon points="1190.5,3077.6 1195.1,3082.2 1190.5,3086.8 1185.9,3082.2" fill="#222"/><polygon points="1230.7,3085.5 1235.3,3090.1 1230.7,3094.7 1226.1,3090.1" fill="#222"/><polyline points="1181.7,3125.6 1181.7,3113.2 1190.9,3113.2 1190.9,3125.6" stroke="#222" stroke-width="1.6" fill="none" stroke-linejoin="miter"/><line x1="1183.7" y1="3115.7" x2="1189.9" y2="3115.7" stroke="#777" stroke-width="2.0" /><line x1="1189.3" y1="3109.2" x2="1189.3" y2="3129.6" stroke="#222" stroke-width="1.5" /><line x1="1195.5" y1="3115.2" x2="1195.5" y2="3125.6" stroke="#222" stroke-width="1.5" /><line x1="1198.0" y1="3116.2" x2="1198.0" y2="3123.6" stroke="#222" stroke-width="1.0" /><polyline points="1223.0,3125.6 1223.0,3113.2 1232.0,3113.2 1232.0,3125.6" stroke="#222" stroke-width="1.6" fill="none" stroke-linejoin="miter"/><line x1="1225.0" y1="3115.7" x2="1231.0" y2="3115.7" stroke="#777" stroke-width="2.0" /><line x1="1230.3" y1="3109.2" x2="1230.3" y2="3129.6" stroke="#222" stroke-width="1.5" /><line x1="1236.3" y1="3115.2" x2="1236.3" y2="3125.6" stroke="#222" stroke-width="1.5" /><line x1="1238.8" y1="3116.2" x2="1238.8" y2="3123.6" stroke="#222" stroke-width="1.0" /><line x1="1190.0" y1="3108.0" x2="1190.0" y2="3130.0" stroke="#222" stroke-width="1.4" /><line x1="1231.0" y1="3108.0" x2="1231.0" y2="3130.0" stroke="#222" stroke-width="1.4" /><text x="1303.5" y="3022.5" font-size="27" fill="#222" font-family="Liberation Serif" text-anchor="middle" dominant-baseline="central" transform="translate(1303.5 3022.5) scale(0.75 1) translate(-1303.5 -3022.5)">R</text></svg>
</body></html>
